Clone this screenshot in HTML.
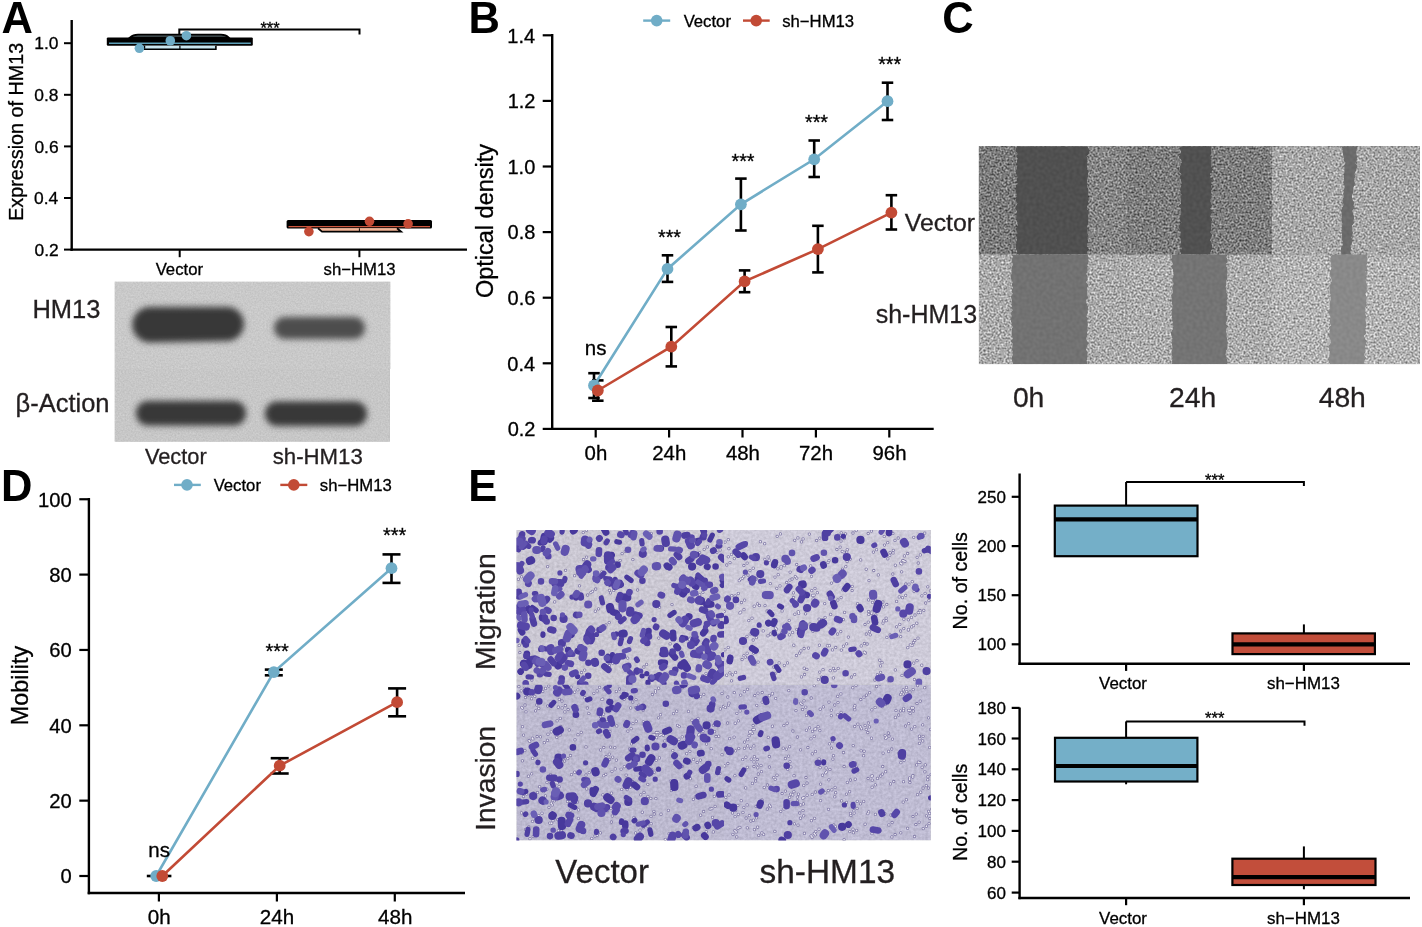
<!DOCTYPE html>
<html><head><meta charset="utf-8"><title>Figure</title>
<style>
html,body{margin:0;padding:0;background:#fff;width:1422px;height:927px;overflow:hidden;}
svg{display:block;will-change:transform;}
text{font-family:"Liberation Sans",sans-serif;}
</style></head>
<body>
<svg width="1422" height="927" viewBox="0 0 1422 927">
<defs>
<filter id="cellnoise" filterUnits="userSpaceOnUse" x="970" y="140" width="460" height="230" color-interpolation-filters="sRGB">
<feTurbulence type="fractalNoise" baseFrequency="0.5" numOctaves="3" seed="7" result="t0"/><feGaussianBlur in="t0" stdDeviation="0.3" result="t"/>
<feColorMatrix in="t" type="matrix" values="1 0 0 0 0  1 0 0 0 0  1 0 0 0 0  0 0 0 0 1" result="g"/>
<feComposite in="g" in2="SourceGraphic" operator="arithmetic" k1="0" k2="0.85" k3="1" k4="-0.425" result="c"/>
<feComposite in="c" in2="SourceGraphic" operator="in"/>
</filter>
<filter id="gapnoise" filterUnits="userSpaceOnUse" x="970" y="140" width="460" height="230" color-interpolation-filters="sRGB">
<feTurbulence type="fractalNoise" baseFrequency="0.3" numOctaves="1" seed="3" result="t"/>
<feColorMatrix in="t" type="matrix" values="1 0 0 0 0  1 0 0 0 0  1 0 0 0 0  0 0 0 0 1" result="g"/>
<feComposite in="g" in2="SourceGraphic" operator="arithmetic" k1="0" k2="0.08" k3="1" k4="-0.04" result="c"/>
<feComposite in="c" in2="SourceGraphic" operator="in"/>
</filter>
<filter id="bgnoise" filterUnits="userSpaceOnUse" x="510" y="525" width="430" height="320" color-interpolation-filters="sRGB">
<feTurbulence type="fractalNoise" baseFrequency="0.35" numOctaves="2" seed="11" result="t"/>
<feColorMatrix in="t" type="matrix" values="1 0 0 0 0  1 0 0 0 0  1 0 0 0 0  0 0 0 0 1" result="g"/>
<feComposite in="g" in2="SourceGraphic" operator="arithmetic" k1="0" k2="0.16" k3="1" k4="-0.08" result="c"/>
<feComposite in="c" in2="SourceGraphic" operator="in"/>
</filter>
<filter id="cellsoft" x="-2%" y="-2%" width="104%" height="104%"><feGaussianBlur stdDeviation="0.6"/></filter>
<filter id="bandblur" filterUnits="userSpaceOnUse" x="112" y="279" width="282" height="166" color-interpolation-filters="sRGB">
<feTurbulence type="fractalNoise" baseFrequency="0.6" numOctaves="2" seed="21" result="t0"/><feGaussianBlur in="t0" stdDeviation="0.5" result="t"/>
<feColorMatrix in="t" type="matrix" values="1 0 0 0 0  1 0 0 0 0  1 0 0 0 0  0 0 0 0 1" result="g"/>
<feComposite in="g" in2="SourceGraphic" operator="arithmetic" k1="0" k2="0.12" k3="1" k4="-0.06" result="c"/>
<feComposite in="c" in2="SourceGraphic" operator="in"/>
</filter>
<filter id="bandblur2" x="-20%" y="-40%" width="140%" height="180%"><feGaussianBlur stdDeviation="3.2"/></filter>
</defs>
<rect x="0" y="0" width="1422" height="927" fill="#fff"/>
<text x="1.42" y="33.00" font-size="43.5" font-weight="bold" fill="#000">A</text>
<text x="468.59" y="33.00" font-size="43.5" font-weight="bold" fill="#000">B</text>
<text x="942.22" y="33.20" font-size="43.5" font-weight="bold" fill="#000">C</text>
<text x="0.89" y="500.80" font-size="43.5" font-weight="bold" fill="#000">D</text>
<text x="468.29" y="500.90" font-size="43.5" font-weight="bold" fill="#000">E</text>
<line x1="71.70" y1="20.00" x2="71.70" y2="250.80" stroke="#000" stroke-width="2.4" stroke-linecap="butt"/>
<line x1="70.50" y1="249.60" x2="467.00" y2="249.60" stroke="#000" stroke-width="2.4" stroke-linecap="butt"/>
<line x1="64.00" y1="249.60" x2="71.70" y2="249.60" stroke="#000" stroke-width="2.0" stroke-linecap="butt"/>
<text x="34.49" y="255.80" font-size="17.4" fill="#000" stroke="#000" stroke-width="0.3" text-anchor="start">0.2</text>
<line x1="64.00" y1="198.00" x2="71.70" y2="198.00" stroke="#000" stroke-width="2.0" stroke-linecap="butt"/>
<text x="34.12" y="204.20" font-size="17.4" fill="#000" stroke="#000" stroke-width="0.3" text-anchor="start">0.4</text>
<line x1="64.00" y1="146.40" x2="71.70" y2="146.40" stroke="#000" stroke-width="2.0" stroke-linecap="butt"/>
<text x="34.38" y="152.60" font-size="17.4" fill="#000" stroke="#000" stroke-width="0.3" text-anchor="start">0.6</text>
<line x1="64.00" y1="94.80" x2="71.70" y2="94.80" stroke="#000" stroke-width="2.0" stroke-linecap="butt"/>
<text x="34.37" y="101.00" font-size="17.4" fill="#000" stroke="#000" stroke-width="0.3" text-anchor="start">0.8</text>
<line x1="64.00" y1="43.20" x2="71.70" y2="43.20" stroke="#000" stroke-width="2.0" stroke-linecap="butt"/>
<text x="34.29" y="49.40" font-size="17.4" fill="#000" stroke="#000" stroke-width="0.3" text-anchor="start">1.0</text>
<line x1="179.70" y1="249.60" x2="179.70" y2="257.20" stroke="#000" stroke-width="2.0" stroke-linecap="butt"/>
<text x="155.67" y="275.20" font-size="16.7" fill="#000" stroke="#000" stroke-width="0.3" text-anchor="start">Vector</text>
<line x1="359.40" y1="249.60" x2="359.40" y2="257.20" stroke="#000" stroke-width="2.0" stroke-linecap="butt"/>
<text x="323.57" y="275.20" font-size="16.7" fill="#000" stroke="#000" stroke-width="0.3" text-anchor="start">sh−HM13</text>
<text transform="translate(23.00 220.82) rotate(-90)" font-size="19.8" fill="#000" stroke="#000" stroke-width="0.3">Expression of HM13</text>
<path d="M179.3 37 L179.3 29.6 L359.5 29.6 L359.5 34.5" stroke="#000" stroke-width="2.0" fill="none" />
<text x="260.42" y="33.60" font-size="16.4" fill="#000" stroke="#000" stroke-width="0.3" text-anchor="start">***</text>
<path d="M129.8 37.5 Q133 34.6 138 34.6 L221 34.6 Q226 34.6 228.8 37.5 Z" stroke="#000" stroke-width="1.6" fill="#4d5b5f" />
<rect x="106.80" y="37.40" width="146.00" height="8.40" fill="#000" rx="1.2"/>
<line x1="109.00" y1="43.20" x2="250.80" y2="43.20" stroke="#5d9fb8" stroke-width="1.4" stroke-linecap="butt"/>
<path d="M144.4 45.8 L144.4 49.2 L215.9 49.2 L215.9 45.8" stroke="#000" stroke-width="1.6" fill="#bfe1ec" />
<line x1="146.00" y1="46.80" x2="214.30" y2="46.80" stroke="#cfe9f2" stroke-width="1.3" stroke-linecap="butt"/>
<line x1="179.90" y1="45.80" x2="179.90" y2="49.20" stroke="#000" stroke-width="1.2" stroke-linecap="butt"/>
<circle cx="139.40" cy="48.30" r="4.8" fill="#70adc7"/>
<circle cx="170.30" cy="40.75" r="4.8" fill="#70adc7"/>
<circle cx="186.40" cy="35.70" r="4.8" fill="#70adc7"/>
<rect x="286.60" y="220.00" width="145.40" height="8.50" fill="#000" rx="1.5"/>
<line x1="288.50" y1="226.60" x2="430.00" y2="226.60" stroke="#d0583f" stroke-width="1.3" stroke-linecap="butt"/>
<path d="M318 228.3 L322 231.6 L401 231.6 L397 228.3" stroke="#000" stroke-width="1.8" fill="#f3b596" />
<line x1="359.40" y1="228.30" x2="359.40" y2="231.60" stroke="#000" stroke-width="1.0" stroke-linecap="butt"/>
<circle cx="308.90" cy="231.60" r="4.8" fill="#c24a35"/>
<circle cx="369.50" cy="221.30" r="4.8" fill="#c24a35"/>
<circle cx="408.10" cy="223.80" r="4.8" fill="#c24a35"/>
<g filter="url(#bandblur)">
<rect x="114.50" y="281.50" width="276.00" height="87.50" fill="#c9c9c9" />
<rect x="114.50" y="369.00" width="275.40" height="72.80" fill="#c7c7c7" />
</g>
<g filter="url(#bandblur2)">
<path d="M150 307 L227 307 A17 17 0 0 1 227 341 L150 342.5 A17.75 17.75 0 0 1 150 307 Z" fill="#393939"/>
<rect x="274" y="317" width="91" height="22" rx="11" fill="#4d4d4d"/>
<rect x="136" y="401" width="110" height="24.5" rx="12" fill="#383838"/>
<rect x="265" y="401.5" width="102" height="24.5" rx="12" fill="#373737"/>
</g>
<text x="32.41" y="318.10" font-size="25.5" fill="#231f20" stroke="#231f20" stroke-width="0.3" text-anchor="start">HM13</text>
<text x="15.53" y="412.40" font-size="25.5" fill="#231f20" stroke="#231f20" stroke-width="0.3" text-anchor="start">β-Action</text>
<text x="144.90" y="463.80" font-size="21.8" fill="#231f20" stroke="#231f20" stroke-width="0.3" text-anchor="start">Vector</text>
<text x="272.78" y="463.80" font-size="22.2" fill="#231f20" stroke="#231f20" stroke-width="0.3" text-anchor="start">sh-HM13</text>
<line x1="552.20" y1="34.10" x2="552.20" y2="430.10" stroke="#000" stroke-width="2.4" stroke-linecap="butt"/>
<line x1="551.00" y1="428.90" x2="933.70" y2="428.90" stroke="#000" stroke-width="2.4" stroke-linecap="butt"/>
<line x1="542.70" y1="428.90" x2="552.20" y2="428.90" stroke="#000" stroke-width="2.2" stroke-linecap="butt"/>
<text x="507.70" y="436.20" font-size="20.0" fill="#000" stroke="#000" stroke-width="0.3" text-anchor="start">0.2</text>
<line x1="542.70" y1="363.30" x2="552.20" y2="363.30" stroke="#000" stroke-width="2.2" stroke-linecap="butt"/>
<text x="507.28" y="370.60" font-size="20.0" fill="#000" stroke="#000" stroke-width="0.3" text-anchor="start">0.4</text>
<line x1="542.70" y1="297.70" x2="552.20" y2="297.70" stroke="#000" stroke-width="2.2" stroke-linecap="butt"/>
<text x="507.58" y="305.00" font-size="20.0" fill="#000" stroke="#000" stroke-width="0.3" text-anchor="start">0.6</text>
<line x1="542.70" y1="232.10" x2="552.20" y2="232.10" stroke="#000" stroke-width="2.2" stroke-linecap="butt"/>
<text x="507.57" y="239.40" font-size="20.0" fill="#000" stroke="#000" stroke-width="0.3" text-anchor="start">0.8</text>
<line x1="542.70" y1="166.50" x2="552.20" y2="166.50" stroke="#000" stroke-width="2.2" stroke-linecap="butt"/>
<text x="507.48" y="173.80" font-size="20.0" fill="#000" stroke="#000" stroke-width="0.3" text-anchor="start">1.0</text>
<line x1="542.70" y1="100.90" x2="552.20" y2="100.90" stroke="#000" stroke-width="2.2" stroke-linecap="butt"/>
<text x="507.70" y="108.20" font-size="20.0" fill="#000" stroke="#000" stroke-width="0.3" text-anchor="start">1.2</text>
<line x1="542.70" y1="35.30" x2="552.20" y2="35.30" stroke="#000" stroke-width="2.2" stroke-linecap="butt"/>
<text x="507.28" y="42.60" font-size="20.0" fill="#000" stroke="#000" stroke-width="0.3" text-anchor="start">1.4</text>
<line x1="595.70" y1="428.90" x2="595.70" y2="437.50" stroke="#000" stroke-width="2.2" stroke-linecap="butt"/>
<text x="584.62" y="460.20" font-size="20.4" fill="#000" stroke="#000" stroke-width="0.3" text-anchor="start">0h</text>
<line x1="669.10" y1="428.90" x2="669.10" y2="437.50" stroke="#000" stroke-width="2.2" stroke-linecap="butt"/>
<text x="652.23" y="460.20" font-size="20.4" fill="#000" stroke="#000" stroke-width="0.3" text-anchor="start">24h</text>
<line x1="742.50" y1="428.90" x2="742.50" y2="437.50" stroke="#000" stroke-width="2.2" stroke-linecap="butt"/>
<text x="725.91" y="460.20" font-size="20.4" fill="#000" stroke="#000" stroke-width="0.3" text-anchor="start">48h</text>
<line x1="815.90" y1="428.90" x2="815.90" y2="437.50" stroke="#000" stroke-width="2.2" stroke-linecap="butt"/>
<text x="799.02" y="460.20" font-size="20.4" fill="#000" stroke="#000" stroke-width="0.3" text-anchor="start">72h</text>
<line x1="889.30" y1="428.90" x2="889.30" y2="437.50" stroke="#000" stroke-width="2.2" stroke-linecap="butt"/>
<text x="872.47" y="460.20" font-size="20.4" fill="#000" stroke="#000" stroke-width="0.3" text-anchor="start">96h</text>
<text transform="translate(493.00 298.10) rotate(-90)" font-size="23.5" fill="#000" stroke="#000" stroke-width="0.3">Optical density</text>
<line x1="594.00" y1="373.20" x2="594.00" y2="398.00" stroke="#000" stroke-width="2.6" stroke-linecap="butt"/>
<line x1="588.25" y1="373.20" x2="599.75" y2="373.20" stroke="#000" stroke-width="2.6" stroke-linecap="butt"/>
<line x1="588.25" y1="398.00" x2="599.75" y2="398.00" stroke="#000" stroke-width="2.6" stroke-linecap="butt"/>
<line x1="667.50" y1="255.30" x2="667.50" y2="281.90" stroke="#000" stroke-width="2.6" stroke-linecap="butt"/>
<line x1="661.75" y1="255.30" x2="673.25" y2="255.30" stroke="#000" stroke-width="2.6" stroke-linecap="butt"/>
<line x1="661.75" y1="281.90" x2="673.25" y2="281.90" stroke="#000" stroke-width="2.6" stroke-linecap="butt"/>
<line x1="740.90" y1="178.60" x2="740.90" y2="230.50" stroke="#000" stroke-width="2.6" stroke-linecap="butt"/>
<line x1="735.15" y1="178.60" x2="746.65" y2="178.60" stroke="#000" stroke-width="2.6" stroke-linecap="butt"/>
<line x1="735.15" y1="230.50" x2="746.65" y2="230.50" stroke="#000" stroke-width="2.6" stroke-linecap="butt"/>
<line x1="814.20" y1="140.50" x2="814.20" y2="177.00" stroke="#000" stroke-width="2.6" stroke-linecap="butt"/>
<line x1="808.45" y1="140.50" x2="819.95" y2="140.50" stroke="#000" stroke-width="2.6" stroke-linecap="butt"/>
<line x1="808.45" y1="177.00" x2="819.95" y2="177.00" stroke="#000" stroke-width="2.6" stroke-linecap="butt"/>
<line x1="887.50" y1="82.70" x2="887.50" y2="120.00" stroke="#000" stroke-width="2.6" stroke-linecap="butt"/>
<line x1="881.75" y1="82.70" x2="893.25" y2="82.70" stroke="#000" stroke-width="2.6" stroke-linecap="butt"/>
<line x1="881.75" y1="120.00" x2="893.25" y2="120.00" stroke="#000" stroke-width="2.6" stroke-linecap="butt"/>
<line x1="597.80" y1="380.40" x2="597.80" y2="400.70" stroke="#000" stroke-width="2.6" stroke-linecap="butt"/>
<line x1="592.05" y1="380.40" x2="603.55" y2="380.40" stroke="#000" stroke-width="2.6" stroke-linecap="butt"/>
<line x1="592.05" y1="400.70" x2="603.55" y2="400.70" stroke="#000" stroke-width="2.6" stroke-linecap="butt"/>
<line x1="671.30" y1="327.00" x2="671.30" y2="366.40" stroke="#000" stroke-width="2.6" stroke-linecap="butt"/>
<line x1="665.55" y1="327.00" x2="677.05" y2="327.00" stroke="#000" stroke-width="2.6" stroke-linecap="butt"/>
<line x1="665.55" y1="366.40" x2="677.05" y2="366.40" stroke="#000" stroke-width="2.6" stroke-linecap="butt"/>
<line x1="744.60" y1="270.40" x2="744.60" y2="292.20" stroke="#000" stroke-width="2.6" stroke-linecap="butt"/>
<line x1="738.85" y1="270.40" x2="750.35" y2="270.40" stroke="#000" stroke-width="2.6" stroke-linecap="butt"/>
<line x1="738.85" y1="292.20" x2="750.35" y2="292.20" stroke="#000" stroke-width="2.6" stroke-linecap="butt"/>
<line x1="817.90" y1="225.80" x2="817.90" y2="272.40" stroke="#000" stroke-width="2.6" stroke-linecap="butt"/>
<line x1="812.15" y1="225.80" x2="823.65" y2="225.80" stroke="#000" stroke-width="2.6" stroke-linecap="butt"/>
<line x1="812.15" y1="272.40" x2="823.65" y2="272.40" stroke="#000" stroke-width="2.6" stroke-linecap="butt"/>
<line x1="891.40" y1="195.20" x2="891.40" y2="229.50" stroke="#000" stroke-width="2.6" stroke-linecap="butt"/>
<line x1="885.65" y1="195.20" x2="897.15" y2="195.20" stroke="#000" stroke-width="2.6" stroke-linecap="butt"/>
<line x1="885.65" y1="229.50" x2="897.15" y2="229.50" stroke="#000" stroke-width="2.6" stroke-linecap="butt"/>
<polyline points="594,385.5 667.5,268.9 740.9,204.3 814.2,159.3 887.5,101.2" fill="none" stroke="#70adc7" stroke-width="2.6"/>
<polyline points="597.8,390.5 671.3,346.7 744.6,281.4 817.9,249.1 891.4,212.6" fill="none" stroke="#c24a35" stroke-width="2.6"/>
<circle cx="594.00" cy="385.50" r="5.9" fill="#70adc7"/>
<circle cx="667.50" cy="268.90" r="5.9" fill="#70adc7"/>
<circle cx="740.90" cy="204.30" r="5.9" fill="#70adc7"/>
<circle cx="814.20" cy="159.30" r="5.9" fill="#70adc7"/>
<circle cx="887.50" cy="101.20" r="5.9" fill="#70adc7"/>
<circle cx="597.80" cy="390.50" r="5.9" fill="#c24a35"/>
<circle cx="671.30" cy="346.70" r="5.9" fill="#c24a35"/>
<circle cx="744.60" cy="281.40" r="5.9" fill="#c24a35"/>
<circle cx="817.90" cy="249.10" r="5.9" fill="#c24a35"/>
<circle cx="891.40" cy="212.60" r="5.9" fill="#c24a35"/>
<text x="657.94" y="244.22" font-size="19.8" fill="#000" stroke="#000" stroke-width="0.3" text-anchor="start">***</text>
<text x="731.44" y="167.52" font-size="19.8" fill="#000" stroke="#000" stroke-width="0.3" text-anchor="start">***</text>
<text x="804.94" y="129.42" font-size="19.8" fill="#000" stroke="#000" stroke-width="0.3" text-anchor="start">***</text>
<text x="878.14" y="71.02" font-size="19.8" fill="#000" stroke="#000" stroke-width="0.3" text-anchor="start">***</text>
<text x="584.86" y="354.60" font-size="20.5" fill="#000" stroke="#000" stroke-width="0.3" text-anchor="start">ns</text>
<line x1="643.20" y1="20.60" x2="670.20" y2="20.60" stroke="#70adc7" stroke-width="2.4" stroke-linecap="butt"/>
<circle cx="656.70" cy="20.60" r="5.8" fill="#70adc7"/>
<text x="683.63" y="26.50" font-size="16.7" fill="#000" stroke="#000" stroke-width="0.3" text-anchor="start">Vector</text>
<line x1="743.00" y1="20.60" x2="769.70" y2="20.60" stroke="#c24a35" stroke-width="2.4" stroke-linecap="butt"/>
<circle cx="756.20" cy="20.60" r="5.8" fill="#c24a35"/>
<text x="782.24" y="26.50" font-size="16.7" fill="#000" stroke="#000" stroke-width="0.3" text-anchor="start">sh−HM13</text>
<g filter="url(#cellnoise)">
<rect x="978.90" y="146.20" width="146.90" height="108.30" fill="#858585" />
<rect x="1125.80" y="146.20" width="146.20" height="108.30" fill="#7d7d7d" />
<rect x="1272.00" y="146.20" width="147.80" height="108.30" fill="#a7a7a7" />
<rect x="978.90" y="146.20" width="41.10" height="108.30" fill="#7b7b7b" />
<rect x="978.90" y="254.50" width="146.90" height="109.60" fill="#aaaaaa" />
<rect x="1125.80" y="254.50" width="146.20" height="109.60" fill="#acacac" />
<rect x="1272.00" y="254.50" width="147.80" height="109.60" fill="#b3b3b3" />
</g>
<g filter="url(#gapnoise)">
<path d="M1017.0 146.2 L1016.2 148.5 L1015.6 151.2 L1017.6 153.8 L1016.4 156.2 L1017.5 158.7 L1016.8 161.8 L1017.2 165.2 L1016.9 168.6 L1015.5 171.5 L1016.1 174.1 L1017.7 176.5 L1016.6 180.0 L1017.7 183.4 L1016.0 186.4 L1015.2 189.8 L1016.2 191.9 L1016.8 195.0 L1015.7 198.4 L1016.1 200.4 L1017.5 203.4 L1015.9 205.9 L1015.1 208.8 L1017.0 210.9 L1016.2 213.9 L1016.5 216.3 L1016.4 219.0 L1017.2 222.2 L1017.9 225.5 L1015.8 228.3 L1016.6 230.4 L1017.4 233.3 L1016.3 236.2 L1017.1 238.3 L1016.5 241.1 L1016.2 243.5 L1015.7 246.7 L1016.2 249.4 L1017.5 252.2 L1015.8 254.5 L1016.7 254.5 L1087.5 254.5 L1088.2 254.5 L1086.8 252.2 L1089.2 249.4 L1087.6 246.7 L1087.4 243.5 L1088.3 241.1 L1087.3 238.3 L1088.7 236.2 L1087.6 233.3 L1087.6 230.4 L1087.8 228.3 L1087.3 225.5 L1088.5 222.2 L1088.6 219.0 L1088.5 216.3 L1088.6 213.9 L1088.6 210.9 L1086.8 208.8 L1087.3 205.9 L1089.0 203.4 L1087.5 200.4 L1088.6 198.4 L1087.8 195.0 L1088.5 191.9 L1088.7 189.8 L1086.9 186.4 L1087.6 183.4 L1087.0 180.0 L1088.0 176.5 L1088.1 174.1 L1088.7 171.5 L1086.8 168.6 L1087.4 165.2 L1087.5 161.8 L1087.5 158.7 L1086.7 156.2 L1088.8 153.8 L1089.5 151.2 L1088.6 148.5 L1087.1 146.2 Z" fill="#505050"/>
<path d="M1181.2 146.2 L1180.7 148.5 L1180.9 151.9 L1180.3 153.9 L1178.8 157.1 L1181.4 160.1 L1181.5 162.8 L1179.9 166.2 L1180.0 168.5 L1179.1 171.6 L1181.4 174.5 L1179.4 177.2 L1181.0 180.2 L1181.6 183.4 L1181.0 186.2 L1180.0 189.0 L1180.3 191.4 L1181.4 194.4 L1180.7 197.5 L1180.9 200.6 L1181.1 203.6 L1178.8 205.7 L1180.9 208.7 L1181.2 212.2 L1180.8 214.2 L1180.0 216.9 L1179.7 219.5 L1181.4 222.5 L1178.9 225.7 L1179.2 229.0 L1180.8 232.5 L1180.2 234.7 L1180.0 237.6 L1181.1 239.9 L1180.7 242.6 L1180.3 244.9 L1181.5 247.9 L1181.1 249.9 L1180.9 253.3 L1179.8 254.5 L1210.6 254.5 L1210.2 253.3 L1211.5 249.9 L1212.4 247.9 L1211.9 244.9 L1211.6 242.6 L1209.9 239.9 L1211.1 237.6 L1212.2 234.7 L1210.5 232.5 L1211.4 229.0 L1211.0 225.7 L1211.4 222.5 L1212.2 219.5 L1210.2 216.9 L1211.3 214.2 L1212.2 212.2 L1210.2 208.7 L1212.2 205.7 L1211.2 203.6 L1210.1 200.6 L1211.8 197.5 L1211.4 194.4 L1211.1 191.4 L1212.1 189.0 L1211.2 186.2 L1211.2 183.4 L1212.4 180.2 L1210.1 177.2 L1209.9 174.5 L1211.8 171.6 L1212.3 168.5 L1211.2 166.2 L1211.5 162.8 L1210.9 160.1 L1210.9 157.1 L1210.5 153.9 L1211.2 151.9 L1210.8 148.5 L1211.3 146.2 Z" fill="#515151"/>
<path d="M1340.8 146.2 L1342.6 148.3 L1342.2 151.7 L1343.1 154.6 L1343.4 157.6 L1343.9 160.5 L1345.5 162.9 L1343.9 165.5 L1344.5 168.1 L1344.3 170.9 L1344.1 173.8 L1343.9 177.1 L1344.0 179.5 L1343.1 182.5 L1344.4 185.4 L1344.5 187.5 L1343.7 190.9 L1343.1 194.1 L1343.7 196.8 L1342.2 200.2 L1343.0 202.5 L1343.4 205.2 L1341.7 207.9 L1341.1 210.9 L1341.5 213.8 L1341.8 216.9 L1341.2 220.2 L1342.2 223.4 L1342.0 225.7 L1341.2 228.1 L1342.2 230.6 L1341.2 232.7 L1342.1 235.1 L1341.6 237.6 L1342.1 240.1 L1342.9 242.6 L1342.3 245.9 L1340.5 248.6 L1341.0 251.5 L1341.2 253.9 L1341.3 254.5 L1349.8 254.5 L1350.9 253.9 L1350.4 251.5 L1351.1 248.6 L1350.6 245.9 L1352.3 242.6 L1352.6 240.1 L1351.4 237.6 L1352.6 235.1 L1353.0 232.7 L1352.3 230.6 L1352.0 228.1 L1352.0 225.7 L1353.8 223.4 L1353.7 220.2 L1354.2 216.9 L1353.2 213.8 L1352.3 210.9 L1354.3 207.9 L1353.6 205.2 L1354.5 202.5 L1352.8 200.2 L1351.8 196.8 L1352.7 194.1 L1353.4 190.9 L1353.1 187.5 L1354.9 185.4 L1354.2 182.5 L1354.0 179.5 L1355.5 177.1 L1354.6 173.8 L1355.8 170.9 L1356.8 168.1 L1357.2 165.5 L1355.3 162.9 L1356.7 160.5 L1357.0 157.6 L1356.7 154.6 L1356.3 151.7 L1357.1 148.3 L1357.4 146.2 Z" fill="#6b6b6b"/>
<path d="M1011.6 254.5 L1012.7 256.7 L1011.8 260.1 L1012.3 262.9 L1012.7 265.2 L1011.2 268.1 L1011.8 270.5 L1011.4 273.9 L1010.4 276.0 L1011.1 279.2 L1012.6 282.3 L1011.6 285.1 L1012.7 287.7 L1011.5 291.2 L1012.8 293.8 L1011.2 295.9 L1011.1 297.9 L1012.2 300.0 L1011.2 302.2 L1012.0 305.4 L1010.9 308.1 L1012.8 310.3 L1010.7 313.2 L1011.6 315.7 L1010.9 318.4 L1010.9 320.9 L1011.7 323.9 L1012.6 327.1 L1011.6 329.6 L1012.1 333.0 L1011.6 335.5 L1013.1 338.4 L1010.4 341.6 L1012.7 343.8 L1012.3 346.9 L1012.1 349.0 L1012.7 352.2 L1012.3 355.4 L1011.8 358.5 L1012.1 361.3 L1012.9 363.9 L1013.1 364.1 L1086.5 364.1 L1087.5 363.9 L1086.7 361.3 L1087.1 358.5 L1087.6 355.4 L1087.5 352.2 L1086.1 349.0 L1086.6 346.9 L1088.3 343.8 L1087.3 341.6 L1086.0 338.4 L1087.4 335.5 L1087.0 333.0 L1087.7 329.6 L1087.7 327.1 L1087.8 323.9 L1087.6 320.9 L1087.9 318.4 L1086.0 315.7 L1087.7 313.2 L1087.8 310.3 L1088.4 308.1 L1087.5 305.4 L1086.0 302.2 L1086.1 300.0 L1088.5 297.9 L1087.6 295.9 L1087.2 293.8 L1087.2 291.2 L1087.0 287.7 L1088.4 285.1 L1085.9 282.3 L1087.8 279.2 L1087.5 276.0 L1086.2 273.9 L1087.8 270.5 L1087.7 268.1 L1087.1 265.2 L1088.5 262.9 L1087.8 260.1 L1088.5 256.7 L1087.4 254.5 Z" fill="#727272"/>
<path d="M1171.8 254.5 L1172.2 257.2 L1170.9 259.3 L1171.8 261.7 L1173.2 263.8 L1171.0 266.2 L1172.6 269.3 L1173.3 272.3 L1173.4 275.4 L1172.8 278.3 L1172.8 280.8 L1173.5 283.9 L1172.1 287.3 L1172.3 289.6 L1173.0 292.6 L1171.1 295.2 L1171.5 298.5 L1171.3 300.8 L1172.0 303.2 L1172.4 305.5 L1172.2 308.6 L1171.7 312.0 L1171.3 314.7 L1172.3 317.6 L1172.0 320.5 L1172.9 323.8 L1173.2 326.3 L1172.7 329.3 L1170.8 332.8 L1171.5 335.9 L1172.4 339.1 L1172.0 341.4 L1171.9 343.5 L1172.3 346.8 L1172.3 348.9 L1171.6 351.0 L1171.5 354.2 L1172.6 357.3 L1172.1 360.4 L1172.2 363.2 L1171.8 364.1 L1227.5 364.1 L1227.2 363.2 L1227.6 360.4 L1226.1 357.3 L1225.7 354.2 L1226.0 351.0 L1227.3 348.9 L1227.3 346.8 L1227.9 343.5 L1227.4 341.4 L1227.5 339.1 L1226.1 335.9 L1226.5 332.8 L1226.1 329.3 L1228.3 326.3 L1225.7 323.8 L1227.1 320.5 L1227.6 317.6 L1225.9 314.7 L1226.2 312.0 L1227.3 308.6 L1226.5 305.5 L1227.5 303.2 L1226.6 300.8 L1227.5 298.5 L1227.6 295.2 L1226.6 292.6 L1226.6 289.6 L1225.7 287.3 L1226.2 283.9 L1226.0 280.8 L1227.4 278.3 L1227.5 275.4 L1227.4 272.3 L1227.6 269.3 L1226.5 266.2 L1226.1 263.8 L1227.7 261.7 L1227.6 259.3 L1226.6 257.2 L1227.3 254.5 Z" fill="#747474"/>
<path d="M1332.0 254.5 L1330.7 256.5 L1330.2 259.8 L1330.4 262.8 L1331.3 266.1 L1331.5 268.5 L1329.5 271.5 L1330.1 273.7 L1330.3 276.8 L1331.8 280.1 L1331.6 282.6 L1329.2 285.7 L1329.9 288.4 L1329.8 291.4 L1330.2 293.9 L1331.1 296.9 L1330.7 300.2 L1329.7 303.1 L1329.9 305.5 L1329.6 307.8 L1329.1 310.9 L1329.0 313.9 L1330.4 317.1 L1329.9 319.4 L1329.5 322.1 L1331.3 325.5 L1328.6 327.5 L1329.8 329.8 L1329.3 333.3 L1328.6 335.9 L1329.8 338.2 L1331.1 341.5 L1330.2 343.7 L1328.7 346.1 L1329.1 349.5 L1330.2 351.8 L1329.4 355.0 L1329.0 357.8 L1329.0 360.1 L1329.0 362.6 L1330.4 364.1 L1365.1 364.1 L1363.8 362.6 L1364.6 360.1 L1366.0 357.8 L1364.2 355.0 L1365.2 351.8 L1365.4 349.5 L1365.4 346.1 L1366.0 343.7 L1366.4 341.5 L1364.3 338.2 L1364.1 335.9 L1366.2 333.3 L1365.5 329.8 L1365.6 327.5 L1366.4 325.5 L1365.8 322.1 L1365.5 319.4 L1366.1 317.1 L1365.4 313.9 L1365.5 310.9 L1365.0 307.8 L1367.0 305.5 L1365.9 303.1 L1366.3 300.2 L1366.9 296.9 L1365.1 293.9 L1366.8 291.4 L1366.8 288.4 L1366.7 285.7 L1366.5 282.6 L1365.6 280.1 L1367.0 276.8 L1366.2 273.7 L1365.5 271.5 L1367.4 268.5 L1366.5 266.1 L1367.1 262.8 L1367.3 259.8 L1366.9 256.5 L1366.0 254.5 Z" fill="#898989"/>
</g>
<text x="904.74" y="230.50" font-size="24.8" fill="#231f20" stroke="#231f20" stroke-width="0.3" text-anchor="start">Vector</text>
<text x="875.68" y="323.20" font-size="25.0" fill="#231f20" stroke="#231f20" stroke-width="0.3" text-anchor="start">sh-HM13</text>
<text x="1012.89" y="406.80" font-size="28.3" fill="#231f20" stroke="#231f20" stroke-width="0.3" text-anchor="start">0h</text>
<text x="1169.08" y="406.80" font-size="28.3" fill="#231f20" stroke="#231f20" stroke-width="0.3" text-anchor="start">24h</text>
<text x="1318.65" y="406.80" font-size="28.3" fill="#231f20" stroke="#231f20" stroke-width="0.3" text-anchor="start">48h</text>
<line x1="88.90" y1="498.10" x2="88.90" y2="894.20" stroke="#000" stroke-width="2.4" stroke-linecap="butt"/>
<line x1="87.70" y1="893.00" x2="465.00" y2="893.00" stroke="#000" stroke-width="2.4" stroke-linecap="butt"/>
<line x1="79.30" y1="876.00" x2="88.90" y2="876.00" stroke="#000" stroke-width="2.2" stroke-linecap="butt"/>
<text x="60.55" y="883.30" font-size="20.2" fill="#000" stroke="#000" stroke-width="0.3" text-anchor="start">0</text>
<line x1="79.30" y1="800.65" x2="88.90" y2="800.65" stroke="#000" stroke-width="2.2" stroke-linecap="butt"/>
<text x="49.32" y="807.95" font-size="20.2" fill="#000" stroke="#000" stroke-width="0.3" text-anchor="start">20</text>
<line x1="79.30" y1="725.30" x2="88.90" y2="725.30" stroke="#000" stroke-width="2.2" stroke-linecap="butt"/>
<text x="49.32" y="732.60" font-size="20.2" fill="#000" stroke="#000" stroke-width="0.3" text-anchor="start">40</text>
<line x1="79.30" y1="649.95" x2="88.90" y2="649.95" stroke="#000" stroke-width="2.2" stroke-linecap="butt"/>
<text x="49.32" y="657.25" font-size="20.2" fill="#000" stroke="#000" stroke-width="0.3" text-anchor="start">60</text>
<line x1="79.30" y1="574.60" x2="88.90" y2="574.60" stroke="#000" stroke-width="2.2" stroke-linecap="butt"/>
<text x="49.32" y="581.90" font-size="20.2" fill="#000" stroke="#000" stroke-width="0.3" text-anchor="start">80</text>
<line x1="79.30" y1="499.25" x2="88.90" y2="499.25" stroke="#000" stroke-width="2.2" stroke-linecap="butt"/>
<text x="38.09" y="506.55" font-size="20.2" fill="#000" stroke="#000" stroke-width="0.3" text-anchor="start">100</text>
<line x1="158.90" y1="893.00" x2="158.90" y2="901.50" stroke="#000" stroke-width="2.2" stroke-linecap="butt"/>
<text x="147.71" y="924.20" font-size="20.6" fill="#000" stroke="#000" stroke-width="0.3" text-anchor="start">0h</text>
<line x1="276.90" y1="893.00" x2="276.90" y2="901.50" stroke="#000" stroke-width="2.2" stroke-linecap="butt"/>
<text x="259.87" y="924.20" font-size="20.6" fill="#000" stroke="#000" stroke-width="0.3" text-anchor="start">24h</text>
<line x1="394.80" y1="893.00" x2="394.80" y2="901.50" stroke="#000" stroke-width="2.2" stroke-linecap="butt"/>
<text x="378.05" y="924.20" font-size="20.6" fill="#000" stroke="#000" stroke-width="0.3" text-anchor="start">48h</text>
<text transform="translate(27.90 725.20) rotate(-90)" font-size="23.4" fill="#000" stroke="#000" stroke-width="0.3">Mobility</text>
<line x1="146.80" y1="876.00" x2="171.40" y2="876.00" stroke="#000" stroke-width="2.6" stroke-linecap="butt"/>
<line x1="273.80" y1="669.60" x2="273.80" y2="675.30" stroke="#000" stroke-width="2.6" stroke-linecap="butt"/>
<line x1="264.80" y1="669.60" x2="282.80" y2="669.60" stroke="#000" stroke-width="2.6" stroke-linecap="butt"/>
<line x1="264.80" y1="675.30" x2="282.80" y2="675.30" stroke="#000" stroke-width="2.6" stroke-linecap="butt"/>
<line x1="391.50" y1="554.40" x2="391.50" y2="582.90" stroke="#000" stroke-width="2.6" stroke-linecap="butt"/>
<line x1="382.50" y1="554.40" x2="400.50" y2="554.40" stroke="#000" stroke-width="2.6" stroke-linecap="butt"/>
<line x1="382.50" y1="582.90" x2="400.50" y2="582.90" stroke="#000" stroke-width="2.6" stroke-linecap="butt"/>
<line x1="279.70" y1="758.20" x2="279.70" y2="773.50" stroke="#000" stroke-width="2.6" stroke-linecap="butt"/>
<line x1="270.70" y1="758.20" x2="288.70" y2="758.20" stroke="#000" stroke-width="2.6" stroke-linecap="butt"/>
<line x1="270.70" y1="773.50" x2="288.70" y2="773.50" stroke="#000" stroke-width="2.6" stroke-linecap="butt"/>
<line x1="397.10" y1="688.40" x2="397.10" y2="716.30" stroke="#000" stroke-width="2.6" stroke-linecap="butt"/>
<line x1="388.10" y1="688.40" x2="406.10" y2="688.40" stroke="#000" stroke-width="2.6" stroke-linecap="butt"/>
<line x1="388.10" y1="716.30" x2="406.10" y2="716.30" stroke="#000" stroke-width="2.6" stroke-linecap="butt"/>
<polyline points="156.2,876 273.8,672.1 391.5,568.2" fill="none" stroke="#70adc7" stroke-width="2.6"/>
<polyline points="162.3,876 279.7,765.7 397.1,702.2" fill="none" stroke="#c24a35" stroke-width="2.6"/>
<circle cx="156.20" cy="876.00" r="5.9" fill="#70adc7"/>
<circle cx="273.80" cy="672.10" r="5.9" fill="#70adc7"/>
<circle cx="391.50" cy="568.20" r="5.9" fill="#70adc7"/>
<circle cx="162.30" cy="876.00" r="5.9" fill="#c24a35"/>
<circle cx="279.70" cy="765.70" r="5.9" fill="#c24a35"/>
<circle cx="397.10" cy="702.20" r="5.9" fill="#c24a35"/>
<text x="265.42" y="657.76" font-size="20.0" fill="#000" stroke="#000" stroke-width="0.3" text-anchor="start">***</text>
<text x="382.92" y="541.96" font-size="20.0" fill="#000" stroke="#000" stroke-width="0.3" text-anchor="start">***</text>
<text x="148.36" y="856.60" font-size="20.5" fill="#000" stroke="#000" stroke-width="0.3" text-anchor="start">ns</text>
<line x1="174.00" y1="484.90" x2="200.80" y2="484.90" stroke="#70adc7" stroke-width="2.4" stroke-linecap="butt"/>
<circle cx="187.00" cy="484.90" r="5.8" fill="#70adc7"/>
<text x="213.63" y="491.20" font-size="16.7" fill="#000" stroke="#000" stroke-width="0.3" text-anchor="start">Vector</text>
<line x1="280.30" y1="484.90" x2="307.30" y2="484.90" stroke="#c24a35" stroke-width="2.4" stroke-linecap="butt"/>
<circle cx="293.80" cy="484.90" r="5.8" fill="#c24a35"/>
<text x="319.84" y="491.20" font-size="16.7" fill="#000" stroke="#000" stroke-width="0.3" text-anchor="start">sh−HM13</text>
<clipPath id="eclip"><rect x="516.4" y="530.0" width="414.4" height="310.4"/></clipPath>
<g filter="url(#bgnoise)">
<rect x="516.40" y="530.00" width="207.60" height="154.80" fill="#cbc8d3" />
<rect x="724.00" y="530.00" width="206.80" height="154.80" fill="#cecbd9" />
<rect x="516.40" y="684.80" width="207.60" height="155.60" fill="#bdbad0" />
<rect x="724.00" y="684.80" width="206.80" height="155.60" fill="#bfbcd3" />
</g>
<clipPath id="qcTL"><rect x="516.4" y="530.0" width="207.6" height="154.8"/></clipPath>
<clipPath id="qcTR"><rect x="724.0" y="530.0" width="206.8" height="154.8"/></clipPath>
<clipPath id="qcBL"><rect x="516.4" y="684.8" width="207.6" height="155.6"/></clipPath>
<clipPath id="qcBR"><rect x="724.0" y="684.8" width="206.8" height="155.6"/></clipPath>
<g clip-path="url(#qcTL)">
<path d="M587.7 595.0h0M590.9 592.6h0M637.6 590.0h0M579.5 585.8h0M547.6 566.6h0M654.4 548.9h0M657.6 546.5h0M610.5 592.8h0M613.7 590.4h0M658.8 638.1h0M662.0 635.7h0M627.7 658.1h0M518.4 579.2h0M521.6 576.8h0M696.7 638.2h0M519.2 645.4h0M522.4 643.0h0M554.7 601.9h0M569.1 663.4h0M716.9 552.3h0M720.1 549.9h0M592.5 591.4h0M595.7 589.0h0M704.2 549.3h0M707.4 546.9h0M519.9 652.5h0M583.5 559.5h0M586.7 557.1h0M606.0 625.0h0M609.2 622.6h0M670.1 643.8h0M711.4 645.3h0M678.3 589.9h0M681.5 587.5h0M561.2 676.3h0M686.2 538.8h0M574.6 575.7h0M577.8 573.3h0M689.5 639.6h0M517.6 597.6h0M609.4 590.3h0M622.1 553.6h0M625.3 551.2h0M598.7 574.2h0M601.9 571.8h0M690.3 638.2h0M659.5 607.2h0M643.9 667.0h0M616.9 562.8h0M620.1 560.4h0M699.7 594.7h0M702.9 592.3h0M562.3 649.4h0M565.5 647.0h0M696.4 555.0h0M699.6 552.6h0M573.6 596.1h0M672.0 604.6h0M524.7 625.3h0M531.9 680.0h0M616.1 562.5h0M692.7 637.9h0M695.9 635.5h0M581.5 672.5h0M584.7 670.1h0M646.6 664.4h0M648.0 535.8h0M651.2 533.4h0M565.6 570.3h0M583.2 532.6h0M586.4 530.2h0M601.9 596.8h0M582.0 653.9h0M702.8 675.7h0M706.0 673.3h0M609.4 665.5h0M612.6 663.1h0M703.0 656.3h0M706.2 653.9h0M517.1 611.8h0M520.3 609.4h0M555.3 589.3h0M558.5 586.9h0M670.9 637.7h0M677.9 592.0h0M681.1 589.6h0M595.3 611.2h0M598.5 608.8h0M634.4 671.8h0M637.6 669.4h0M632.9 559.6h0" stroke="#7f78a6" stroke-width="3.3" stroke-linecap="round" fill="none"/>
<path d="M587.7 595.0h0M590.9 592.6h0M637.6 590.0h0M579.5 585.8h0M547.6 566.6h0M654.4 548.9h0M657.6 546.5h0M610.5 592.8h0M613.7 590.4h0M658.8 638.1h0M662.0 635.7h0M627.7 658.1h0M518.4 579.2h0M521.6 576.8h0M696.7 638.2h0M519.2 645.4h0M522.4 643.0h0M554.7 601.9h0M569.1 663.4h0M716.9 552.3h0M720.1 549.9h0M592.5 591.4h0M595.7 589.0h0M704.2 549.3h0M707.4 546.9h0M519.9 652.5h0M583.5 559.5h0M586.7 557.1h0M606.0 625.0h0M609.2 622.6h0M670.1 643.8h0M711.4 645.3h0M678.3 589.9h0M681.5 587.5h0M561.2 676.3h0M686.2 538.8h0M574.6 575.7h0M577.8 573.3h0M689.5 639.6h0M517.6 597.6h0M609.4 590.3h0M622.1 553.6h0M625.3 551.2h0M598.7 574.2h0M601.9 571.8h0M690.3 638.2h0M659.5 607.2h0M643.9 667.0h0M616.9 562.8h0M620.1 560.4h0M699.7 594.7h0M702.9 592.3h0M562.3 649.4h0M565.5 647.0h0M696.4 555.0h0M699.6 552.6h0M573.6 596.1h0M672.0 604.6h0M524.7 625.3h0M531.9 680.0h0M616.1 562.5h0M692.7 637.9h0M695.9 635.5h0M581.5 672.5h0M584.7 670.1h0M646.6 664.4h0M648.0 535.8h0M651.2 533.4h0M565.6 570.3h0M583.2 532.6h0M586.4 530.2h0M601.9 596.8h0M582.0 653.9h0M702.8 675.7h0M706.0 673.3h0M609.4 665.5h0M612.6 663.1h0M703.0 656.3h0M706.2 653.9h0M517.1 611.8h0M520.3 609.4h0M555.3 589.3h0M558.5 586.9h0M670.9 637.7h0M677.9 592.0h0M681.1 589.6h0M595.3 611.2h0M598.5 608.8h0M634.4 671.8h0M637.6 669.4h0M632.9 559.6h0" stroke="#ebe9f1" stroke-width="1.7" stroke-linecap="round" fill="none"/>
<g filter="url(#cellsoft)" fill="none" stroke-linecap="round">
<path d="M550.0 537.5l-0.2 2.9M540.5 542.1l-0.4 1.0M605.2 532.2l0.0 0.0M616.8 541.7l2.7 0.5M697.1 554.3l0.1 0.5M698.7 540.1l-2.0 0.7M712.3 535.1l-2.4 4.9M576.0 597.7l-0.1 0.4M615.1 579.4l-0.4 0.5M626.9 577.2l4.2 3.2M722.2 580.6l2.1 4.2M723.2 584.6l-1.0 0.8M702.2 600.1l-0.1 2.2M543.0 633.9l-0.1 1.4M532.4 607.5l3.8 2.9M518.0 612.3l1.2 0.5M616.4 633.9l0.3 0.2M674.1 612.5l-4.2 2.8M682.3 637.5l3.6 0.7M524.7 668.0l1.6 0.2M540.7 649.4l-0.0 0.0M524.1 666.8l0.2 0.3M537.7 659.2l0.0 0.0M577.6 676.6l0.0 0.0M612.4 654.6l-0.8 3.2M646.8 673.7l0.0 0.0M642.1 675.8l0.0 0.0M647.9 682.2l0.1 1.3M664.1 683.5l-0.0 0.0M723.5 654.7l-0.0 0.0" stroke="#46379c" stroke-width="5.2"/>
<path d="M547.9 537.4l3.0 0.8M574.5 530.2l-1.4 1.0M617.6 564.8l-0.0 0.0M611.7 555.0l-4.6 1.3M603.9 528.8l2.2 3.7M666.8 565.6l0.5 0.9M660.1 548.3l0.7 0.1M668.8 566.7l0.5 0.5M715.6 566.5l0.0 0.0M707.0 566.6l0.5 0.2M620.6 584.6l-0.2 0.1M711.3 604.4l-4.9 0.3M694.9 586.0l1.4 0.7M520.9 629.9l1.3 2.4M524.5 641.4l0.0 0.0M528.3 608.6l1.6 2.4M570.1 632.4l1.3 2.4M613.0 612.2l3.7 0.9M648.5 631.1l-0.7 5.2M673.0 632.9l0.3 5.4M688.6 616.3l0.7 0.3M711.4 621.3l2.3 1.8M705.2 630.8l-1.9 2.5M526.9 653.8l-0.2 2.3M520.7 671.5l-0.1 0.1M577.6 651.1l5.0 1.3M568.2 650.0l0.0 0.0M607.9 657.0l2.8 2.8M608.5 659.3l0.1 0.9M672.0 653.9l3.0 3.6M676.5 646.4l1.4 1.6M661.1 662.6l3.8 0.1M662.9 653.1l-0.4 0.8M665.2 653.8l-0.0 0.1" stroke="#46379c" stroke-width="6.6"/>
<path d="M544.7 536.8l-0.8 4.3M531.1 560.3l-1.2 0.5M586.6 565.9l-0.4 1.0M692.1 566.6l-0.0 0.0M627.3 597.3l-3.6 0.3M683.5 592.5l-0.6 0.8M698.6 579.1l0.0 0.0M700.9 600.8l0.0 0.0M542.8 617.5l0.0 0.1M610.0 607.1l0.5 2.1M623.7 633.6l-1.5 0.3M523.9 663.6l4.7 1.5M534.6 659.4l-4.0 1.4M558.1 665.2l0.1 0.2M683.9 663.4l2.9 4.5M681.5 665.2l-0.1 0.2" stroke="#46379c" stroke-width="8.2"/>
<path d="M543.0 547.8l-0.6 1.7M514.4 548.5l4.2 1.3M526.8 544.3l2.0 2.0M525.6 545.6l-2.2 1.7M562.2 531.0l-0.2 1.1M589.8 540.3l0.0 0.0M607.3 541.0l-1.2 1.8M624.7 528.2l1.7 4.7M641.7 540.6l0.4 3.3M703.4 534.4l-1.5 3.3M719.9 545.7l-1.9 0.4M534.4 593.5l1.5 0.1M565.0 578.5l-0.6 2.3M572.0 597.1l0.0 0.0M601.3 598.0l1.2 4.9M605.7 578.7l4.3 0.3M613.7 581.0l-4.0 3.2M603.9 573.2l-3.1 3.4M621.6 606.5l0.6 0.7M684.9 590.5l2.7 0.1M708.7 600.8l-1.0 2.1M698.0 575.1l3.9 3.6M596.5 634.5l-0.0 0.0M630.5 638.6l-1.1 2.9M654.1 619.6l-0.0 0.0M624.1 618.7l-3.6 3.0M621.4 639.2l-1.1 4.5M709.2 613.8l-0.6 2.2M721.7 615.4l-3.4 0.6M697.2 640.9l-1.8 2.7M532.0 658.3l0.0 0.3M545.4 673.8l3.8 0.5M528.0 676.9l3.5 0.1M541.3 648.0l4.7 1.0M581.4 646.8l-1.4 1.9M636.4 659.1l0.9 1.3M722.4 664.0l-2.4 3.3M696.8 654.7l-0.0 0.0" stroke="#4f3fa2" stroke-width="5.2"/>
<path d="M522.1 534.3l-0.2 0.9M519.9 542.7l-2.3 3.4M531.2 540.2l1.5 0.1M599.6 538.2l-0.4 0.3M608.4 567.6l0.0 0.0M687.5 535.0l-3.2 0.6M676.9 554.5l2.2 2.4M703.2 529.6l0.6 1.7M703.5 537.2l-0.0 0.0M691.3 558.8l-3.0 2.0M713.6 550.5l-0.5 0.2M721.2 557.0l2.7 2.6M547.0 598.9l-1.2 1.6M518.6 591.7l-0.0 0.0M580.5 595.6l0.3 1.8M588.2 569.5l0.0 0.0M620.2 595.1l-1.5 4.6M588.2 569.1l0.4 0.6M642.4 580.8l0.0 0.0M682.2 588.1l1.8 0.9M704.7 580.7l-0.0 0.0M546.7 621.5l0.0 0.0M532.6 619.0l1.3 4.6M525.9 644.6l0.0 0.0M544.9 617.5l0.3 2.2M550.3 629.5l3.0 0.8M553.7 618.0l0.0 0.0M576.1 614.9l0.5 0.2M618.7 616.2l-0.5 0.8M599.5 630.0l0.0 0.0M591.8 635.2l-5.0 1.8M649.0 636.6l0.0 0.0M634.8 614.5l4.7 1.1M647.2 642.9l0.0 0.0M656.2 626.7l-0.2 0.5M724.3 634.2l-3.9 0.3M693.6 639.6l-0.1 2.7M706.4 641.4l-1.3 2.3M702.1 609.6l3.0 1.0M526.5 655.8l-0.0 0.0M550.7 659.5l3.0 3.6M561.7 678.5l-0.0 0.0M580.1 683.2l0.0 0.0M601.7 652.8l0.0 0.0M588.4 662.7l0.0 0.0M604.4 666.4l4.0 3.4M588.2 675.7l0.0 0.0M636.9 670.6l-0.2 1.0M651.2 678.1l0.6 0.5M629.4 678.2l-0.2 5.1M672.7 651.6l-0.0 0.0M675.3 669.9l0.0 0.0M664.5 650.1l-1.4 0.0M659.3 675.4l0.3 3.3M656.3 676.8l0.0 0.3M708.7 652.5l-0.4 0.2" stroke="#4f3fa2" stroke-width="6.6"/>
<path d="M516.1 566.2l0.9 0.3M587.2 564.4l-1.2 1.8M608.0 555.4l-0.0 5.4M609.7 557.5l0.5 1.7M642.8 553.8l0.0 0.0M665.3 539.6l0.5 3.3M521.0 605.8l-1.4 1.2M516.0 594.6l3.0 0.9M555.3 583.1l5.1 0.1M619.5 583.8l-4.1 2.1M656.3 604.1l0.0 0.0M561.9 643.0l-0.0 0.0M563.6 618.9l-0.0 0.0M591.0 638.9l-0.5 1.3M589.8 631.7l-1.5 5.1M630.3 610.7l-0.2 1.9M663.2 633.6l3.4 2.1M721.4 625.0l0.0 0.0M563.4 657.6l-2.1 2.5M594.8 662.0l0.2 0.7M664.6 652.9l0.0 0.0M721.4 665.4l4.6 0.1M712.4 672.8l-1.1 2.7" stroke="#4f3fa2" stroke-width="8.2"/>
<path d="M525.6 543.0l-5.3 0.4M521.9 563.4l-1.7 2.4M612.5 561.4l-3.2 2.9M632.3 532.2l-2.1 3.2M647.2 534.8l0.0 0.0M698.4 562.1l0.0 0.0M692.2 537.0l-0.3 1.7M704.8 535.0l-0.8 0.2M699.4 541.5l-1.8 2.0M720.6 529.8l-1.1 0.6M536.9 599.8l-0.0 0.0M559.9 572.9l0.0 0.0M614.9 587.1l-0.0 0.0M673.8 585.5l2.6 0.7M683.4 576.9l-0.0 0.0M531.4 613.9l1.0 2.9M531.1 609.8l-0.0 0.0M525.6 638.5l2.4 2.8M696.1 637.0l-0.4 0.8M705.5 627.0l-0.0 0.0M706.3 643.6l1.0 4.1M536.0 661.9l1.4 2.6M572.9 654.4l-4.9 0.1M640.7 671.0l0.0 0.0M629.4 671.8l3.2 3.1M676.4 683.2l0.6 1.3M714.9 679.9l-2.4 2.6" stroke="#5747a8" stroke-width="5.2"/>
<path d="M520.7 538.7l1.8 0.3M544.4 538.7l-0.7 2.8M548.3 556.2l0.0 0.0M599.0 550.3l-0.2 3.5M589.0 544.5l-0.5 1.2M620.3 534.5l1.2 0.4M659.7 531.4l-0.1 0.0M690.3 542.3l0.0 0.0M541.0 581.4l0.0 0.0M528.6 583.3l-0.3 0.6M613.1 567.6l-2.6 2.4M629.5 592.1l-0.2 0.5M637.6 573.1l3.4 2.3M678.7 586.9l-1.4 4.8M660.7 594.9l1.3 0.5M709.9 584.7l-3.2 0.2M546.7 609.9l1.8 0.8M522.9 610.1l-4.5 1.3M586.5 639.2l1.3 2.1M591.0 628.8l1.1 1.2M644.5 639.6l-1.0 1.2M682.1 639.6l-0.0 0.0M713.6 638.0l-0.2 1.3M706.9 624.0l-0.0 0.0M708.8 614.7l1.6 4.5M524.0 664.9l1.4 2.4M525.7 683.3l0.3 2.1M540.1 663.2l3.5 1.9M539.9 674.2l0.0 0.0M575.5 672.6l-3.2 1.4M560.6 653.8l-2.7 4.3M561.4 681.7l-0.6 1.0M567.9 663.2l3.0 0.6M585.3 684.5l-0.1 0.0M622.9 656.1l-5.3 0.4M628.3 665.9l-3.0 0.9M684.0 675.4l0.0 0.0M664.1 666.2l-1.9 1.3M703.4 678.4l4.3 1.4M707.9 649.4l-0.3 0.8" stroke="#5747a8" stroke-width="6.6"/>
<path d="M530.0 529.8l1.7 1.2M548.3 532.9l2.5 1.2M518.3 566.5l1.7 3.9M585.1 539.6l-0.4 2.9M689.0 541.2l1.8 4.1M700.4 561.6l0.1 0.1M702.9 558.6l3.3 1.6M584.3 569.0l-4.8 0.1M596.4 578.2l0.0 0.0M699.2 600.0l-0.5 0.5M690.3 580.5l1.5 2.0M521.0 625.3l4.8 1.2M636.2 618.4l-1.6 1.5M685.0 619.8l-2.2 3.5M697.9 622.1l-4.1 1.3M691.0 645.1l0.0 0.0M550.6 648.2l0.5 3.0M617.2 657.8l-1.2 2.5M712.4 655.8l-2.8 1.4M719.1 663.6l3.7 2.6M720.5 673.1l-3.1 2.8M694.1 653.8l5.2 0.7" stroke="#5747a8" stroke-width="8.2"/>
<path d="M524.5 543.5l-3.2 3.8M555.6 543.9l2.1 4.3M670.6 548.9l4.1 0.3M693.4 540.3l-1.9 0.2M582.8 573.9l-1.6 2.3M559.9 588.8l-4.2 1.2M595.2 579.2l-0.0 0.0M717.5 606.1l0.8 0.7M705.0 588.1l-1.4 0.3M698.1 582.1l4.4 2.9M562.5 614.8l-0.0 0.0M613.5 634.3l0.8 3.4M643.6 630.5l-1.4 4.8M535.7 658.9l-1.4 2.6M583.5 678.1l-2.3 2.7M570.9 651.9l-0.9 1.1M628.9 649.6l-4.5 1.5M681.4 653.3l0.7 2.0M671.1 672.6l3.7 0.8" stroke="#6152ae" stroke-width="5.2"/>
<path d="M547.9 551.2l-1.8 2.3M634.2 533.5l-0.8 3.7M628.0 549.7l-0.0 0.0M678.6 549.9l1.1 0.3M672.1 560.3l1.5 1.8M659.8 548.4l-2.8 0.0M537.1 597.5l-2.2 1.5M585.0 568.6l0.6 0.8M576.8 593.1l-1.1 1.9M552.0 581.3l2.9 0.2M561.3 594.3l-2.0 1.9M596.3 579.6l0.8 0.4M607.6 582.5l-0.1 0.1M722.3 577.0l0.3 0.7M690.2 599.7l1.5 0.5M715.2 590.2l-1.9 0.7M524.2 614.6l0.3 4.7M542.9 612.0l-0.0 0.0M579.3 614.7l0.0 0.0M603.1 627.6l-1.3 0.9M711.1 613.4l0.9 1.5M694.6 634.4l0.0 0.0M536.8 670.4l0.3 0.2M542.9 670.3l-0.7 0.7M545.9 664.2l2.4 3.3M580.3 647.5l3.9 1.5M564.8 667.6l-0.0 0.0M559.9 648.7l-4.6 1.6M606.9 658.0l0.0 0.0M626.0 668.0l0.3 0.8M699.0 667.4l-0.3 1.8M702.0 648.4l-3.1 1.7" stroke="#6152ae" stroke-width="6.6"/>
<path d="M537.2 550.0l-0.9 0.0M518.5 541.5l1.0 0.3M565.6 548.9l-0.8 2.8M657.1 566.2l-1.3 0.1M677.4 534.8l-1.0 3.5M694.0 554.8l-0.1 0.0M582.3 572.3l-2.0 0.0M588.2 604.5l0.0 0.0M622.5 604.0l-0.0 4.3M682.9 579.4l3.9 1.3M568.6 633.4l-1.7 4.9M583.4 654.4l-0.7 2.8M665.1 676.3l-2.4 3.5M706.4 664.3l1.5 0.9" stroke="#6152ae" stroke-width="8.2"/>
<path d="M593.9 558.8l-1.3 0.0M589.8 539.3l-0.6 0.7M644.1 549.0l-1.3 0.7M525.6 594.6l-4.5 2.0M641.1 602.3l-3.2 2.4M518.3 616.9l1.0 1.5M517.1 640.4l-0.1 0.2M687.9 627.3l2.3 1.0M717.5 621.2l-4.7 1.4M541.9 647.9l0.3 1.7M652.2 677.2l-0.0 0.0M688.8 675.7l5.0 1.9M723.1 668.7l-2.5 1.5" stroke="#6b5fb5" stroke-width="5.2"/>
<path d="M646.2 533.7l3.1 2.8M719.5 542.3l-0.0 0.0M525.5 603.3l-4.9 0.8M555.2 588.3l-0.9 4.6M596.1 573.6l-0.0 0.0M617.4 582.6l-1.4 3.6M695.1 593.1l-1.9 0.3M717.1 596.6l-4.5 1.1M678.6 619.5l1.0 1.3M684.4 682.9l0.9 3.1M717.9 658.2l0.8 3.4M704.4 656.8l0.0 0.0" stroke="#6b5fb5" stroke-width="6.6"/>
<path d="M530.5 575.5l-3.4 3.8M541.0 598.0l1.4 4.9M643.8 569.6l-2.0 2.4M682.2 584.8l-0.0 0.0M570.4 627.0l3.2 3.4M539.6 661.7l1.9 0.3M632.4 679.3l0.0 0.0M714.4 645.9l-0.4 0.6" stroke="#6b5fb5" stroke-width="8.2"/>
</g></g>
<g clip-path="url(#qcTR)">
<path d="M841.3 650.1h0M728.9 548.7h0M734.9 597.5h0M901.8 563.9h0M905.0 561.5h0M899.2 596.9h0M753.2 640.0h0M756.4 637.6h0M921.9 595.8h0M925.1 593.4h0M787.8 561.4h0M756.6 579.0h0M900.6 563.2h0M903.8 560.8h0M914.8 640.5h0M918.0 638.1h0M740.6 579.1h0M743.8 576.7h0M739.2 580.7h0M742.4 578.3h0M874.9 680.0h0M878.1 677.6h0M772.9 563.1h0M776.1 560.7h0M872.7 617.4h0M875.9 615.0h0M811.8 590.7h0M815.0 588.3h0M879.8 660.2h0M827.3 645.8h0M920.0 610.5h0M754.2 606.2h0M757.4 603.8h0M819.1 619.1h0M793.4 592.8h0M830.7 614.4h0M724.0 598.3h0M831.5 583.1h0M834.7 580.7h0M865.0 624.5h0M868.2 622.1h0M724.2 611.5h0M883.0 623.1h0M886.2 620.7h0M869.0 580.6h0M861.1 654.6h0M864.3 652.2h0M814.1 595.1h0M817.3 592.7h0M794.7 540.3h0M797.9 537.9h0M810.7 565.9h0M796.9 629.4h0M800.1 627.0h0M843.3 619.5h0M880.5 665.9h0M838.0 535.2h0M841.2 532.8h0M816.6 540.5h0M819.8 538.1h0M824.7 603.6h0M740.8 612.1h0M744.0 609.7h0M793.5 597.5h0M904.4 555.9h0M907.6 553.5h0M848.3 637.1h0M778.6 635.1h0M781.8 632.7h0M819.8 672.1h0M823.0 669.7h0M900.7 636.6h0M796.8 578.1h0M841.0 541.0h0M844.2 538.6h0M868.2 533.5h0M871.4 531.1h0M747.0 636.3h0M750.2 633.9h0M852.2 586.3h0M731.5 680.8h0M725.1 542.1h0M728.3 539.7h0M909.0 584.1h0M912.2 581.7h0M889.8 555.3h0M893.0 552.9h0M883.7 620.9h0M892.9 533.4h0M886.1 618.1h0M868.6 611.5h0M866.2 569.2h0M908.3 630.0h0M743.9 565.5h0M747.1 563.1h0M847.1 561.5h0M850.3 559.1h0M872.5 602.4h0M875.7 600.0h0M924.8 533.1h0M910.3 644.9h0M913.5 642.5h0M773.5 631.5h0M776.7 629.1h0M920.6 612.7h0M923.8 610.3h0M818.4 679.6h0M821.6 677.2h0M873.4 552.1h0M876.6 549.7h0M775.0 634.2h0M782.1 610.9h0M735.1 595.8h0M738.3 593.4h0M882.0 662.7h0M804.2 668.2h0M835.0 670.7h0M838.2 668.3h0M793.8 645.2h0M921.8 665.2h0M812.6 595.4h0M777.9 568.8h0M781.1 566.4h0M742.1 659.5h0M745.3 657.1h0M801.4 676.9h0M804.6 674.5h0M905.8 584.0h0M920.2 612.3h0M790.1 572.1h0M877.4 674.7h0M880.6 672.3h0M913.7 537.3h0M768.0 635.8h0M903.9 619.2h0M812.9 631.3h0M816.1 628.9h0M753.5 653.1h0M895.0 540.4h0M898.2 538.0h0M874.8 610.1h0M878.0 607.7h0M868.8 614.4h0M872.0 612.0h0M775.4 628.1h0M796.7 564.5h0M866.3 634.0h0M869.5 631.6h0M892.8 574.0h0M914.4 679.5h0M770.4 634.0h0M773.6 631.6h0M878.3 574.9h0M732.4 674.8h0M735.6 672.4h0M789.2 620.4h0M902.5 597.7h0M905.7 595.3h0M748.8 620.6h0M752.0 618.2h0M741.5 602.5h0M744.7 600.1h0M798.7 613.4h0M789.4 634.8h0M792.6 632.4h0M792.1 579.0h0M795.3 576.6h0M739.9 612.9h0M810.1 624.0h0M837.7 537.8h0M840.9 535.4h0M784.3 665.3h0M787.5 662.9h0M844.0 552.1h0M847.2 549.7h0M754.5 635.3h0M757.7 632.9h0M819.4 645.2h0M806.9 669.4h0M769.1 560.2h0M770.3 583.6h0M842.5 589.8h0M845.7 587.4h0M731.8 595.7h0M884.5 545.1h0M887.7 542.7h0M754.9 664.5h0M758.1 662.1h0M829.4 645.7h0M725.0 649.8h0M728.2 647.4h0M844.6 612.4h0M900.6 631.0h0M903.8 628.6h0M748.0 575.0h0M800.9 650.9h0M804.1 648.5h0M765.0 605.6h0M908.3 619.8h0M911.5 617.4h0M930.4 590.9h0M933.6 588.5h0M781.0 568.1h0M784.2 565.7h0M804.3 591.5h0M871.7 613.5h0M767.1 611.0h0M728.3 556.8h0M731.5 554.4h0M759.4 605.5h0M927.8 586.8h0M764.7 543.7h0M896.6 626.8h0M899.8 624.4h0M830.2 670.7h0M833.4 668.3h0M913.6 625.6h0M916.8 623.2h0M759.0 623.4h0M842.6 569.1h0M845.8 566.7h0M868.6 599.9h0M871.8 597.5h0M860.7 559.9h0M798.4 611.8h0M842.2 551.4h0M925.7 603.0h0M928.9 600.6h0M908.5 629.3h0M911.7 626.9h0M918.2 563.0h0M786.2 563.0h0M789.4 560.6h0M843.4 646.2h0M846.6 643.8h0M915.0 615.0h0M918.2 612.6h0M852.8 614.3h0M913.8 663.1h0M917.0 660.7h0M887.9 558.8h0M734.3 558.6h0M737.5 556.2h0M763.2 630.9h0M851.5 677.0h0M854.7 674.6h0M836.9 549.5h0M840.1 547.1h0M808.4 648.1h0M832.5 649.9h0M835.7 647.5h0M792.0 599.8h0M879.7 604.4h0M882.9 602.0h0M811.5 576.3h0M726.7 675.2h0M729.9 672.8h0M775.9 665.3h0M779.1 662.9h0M824.8 565.0h0M828.0 562.6h0M764.9 559.3h0M768.1 556.9h0M902.0 675.4h0M786.7 582.5h0M789.9 580.1h0M796.4 655.5h0M799.6 653.1h0M883.6 606.9h0M886.8 604.5h0M813.1 598.9h0M775.0 577.1h0M778.2 574.7h0M884.2 536.4h0M837.6 634.0h0M840.8 631.6h0M870.2 634.8h0M888.2 680.8h0M726.8 565.0h0M730.0 562.6h0M829.0 560.6h0M886.9 637.4h0M890.1 635.0h0M833.4 677.9h0M809.3 534.1h0M857.6 603.6h0M917.1 557.3h0M920.3 554.9h0M853.0 533.0h0M856.2 530.6h0M901.7 571.8h0M865.3 653.0h0M861.2 645.9h0M864.4 643.5h0M773.9 667.0h0M776.8 588.3h0M780.0 585.9h0M801.5 541.9h0M803.1 538.9h0M760.4 541.7h0M895.3 565.2h0M902.8 560.5h0M743.9 655.6h0M747.1 653.2h0M774.9 673.8h0M778.1 671.4h0M852.1 590.5h0M895.3 669.9h0M896.6 601.4h0M846.8 552.0h0M873.8 570.5h0M867.1 644.0h0M821.9 619.8h0M825.1 617.4h0M837.9 600.0h0M841.1 597.6h0M794.9 614.2h0M798.1 611.8h0M842.2 536.3h0M845.4 533.9h0M777.2 536.3h0M780.4 533.9h0M823.7 623.7h0M914.1 591.3h0M750.0 570.6h0M753.2 568.2h0M907.8 647.7h0M912.1 645.4h0M890.1 552.7h0M893.3 550.3h0M805.6 613.8h0" stroke="#7f78a6" stroke-width="3.3" stroke-linecap="round" fill="none"/>
<path d="M841.3 650.1h0M728.9 548.7h0M734.9 597.5h0M901.8 563.9h0M905.0 561.5h0M899.2 596.9h0M753.2 640.0h0M756.4 637.6h0M921.9 595.8h0M925.1 593.4h0M787.8 561.4h0M756.6 579.0h0M900.6 563.2h0M903.8 560.8h0M914.8 640.5h0M918.0 638.1h0M740.6 579.1h0M743.8 576.7h0M739.2 580.7h0M742.4 578.3h0M874.9 680.0h0M878.1 677.6h0M772.9 563.1h0M776.1 560.7h0M872.7 617.4h0M875.9 615.0h0M811.8 590.7h0M815.0 588.3h0M879.8 660.2h0M827.3 645.8h0M920.0 610.5h0M754.2 606.2h0M757.4 603.8h0M819.1 619.1h0M793.4 592.8h0M830.7 614.4h0M724.0 598.3h0M831.5 583.1h0M834.7 580.7h0M865.0 624.5h0M868.2 622.1h0M724.2 611.5h0M883.0 623.1h0M886.2 620.7h0M869.0 580.6h0M861.1 654.6h0M864.3 652.2h0M814.1 595.1h0M817.3 592.7h0M794.7 540.3h0M797.9 537.9h0M810.7 565.9h0M796.9 629.4h0M800.1 627.0h0M843.3 619.5h0M880.5 665.9h0M838.0 535.2h0M841.2 532.8h0M816.6 540.5h0M819.8 538.1h0M824.7 603.6h0M740.8 612.1h0M744.0 609.7h0M793.5 597.5h0M904.4 555.9h0M907.6 553.5h0M848.3 637.1h0M778.6 635.1h0M781.8 632.7h0M819.8 672.1h0M823.0 669.7h0M900.7 636.6h0M796.8 578.1h0M841.0 541.0h0M844.2 538.6h0M868.2 533.5h0M871.4 531.1h0M747.0 636.3h0M750.2 633.9h0M852.2 586.3h0M731.5 680.8h0M725.1 542.1h0M728.3 539.7h0M909.0 584.1h0M912.2 581.7h0M889.8 555.3h0M893.0 552.9h0M883.7 620.9h0M892.9 533.4h0M886.1 618.1h0M868.6 611.5h0M866.2 569.2h0M908.3 630.0h0M743.9 565.5h0M747.1 563.1h0M847.1 561.5h0M850.3 559.1h0M872.5 602.4h0M875.7 600.0h0M924.8 533.1h0M910.3 644.9h0M913.5 642.5h0M773.5 631.5h0M776.7 629.1h0M920.6 612.7h0M923.8 610.3h0M818.4 679.6h0M821.6 677.2h0M873.4 552.1h0M876.6 549.7h0M775.0 634.2h0M782.1 610.9h0M735.1 595.8h0M738.3 593.4h0M882.0 662.7h0M804.2 668.2h0M835.0 670.7h0M838.2 668.3h0M793.8 645.2h0M921.8 665.2h0M812.6 595.4h0M777.9 568.8h0M781.1 566.4h0M742.1 659.5h0M745.3 657.1h0M801.4 676.9h0M804.6 674.5h0M905.8 584.0h0M920.2 612.3h0M790.1 572.1h0M877.4 674.7h0M880.6 672.3h0M913.7 537.3h0M768.0 635.8h0M903.9 619.2h0M812.9 631.3h0M816.1 628.9h0M753.5 653.1h0M895.0 540.4h0M898.2 538.0h0M874.8 610.1h0M878.0 607.7h0M868.8 614.4h0M872.0 612.0h0M775.4 628.1h0M796.7 564.5h0M866.3 634.0h0M869.5 631.6h0M892.8 574.0h0M914.4 679.5h0M770.4 634.0h0M773.6 631.6h0M878.3 574.9h0M732.4 674.8h0M735.6 672.4h0M789.2 620.4h0M902.5 597.7h0M905.7 595.3h0M748.8 620.6h0M752.0 618.2h0M741.5 602.5h0M744.7 600.1h0M798.7 613.4h0M789.4 634.8h0M792.6 632.4h0M792.1 579.0h0M795.3 576.6h0M739.9 612.9h0M810.1 624.0h0M837.7 537.8h0M840.9 535.4h0M784.3 665.3h0M787.5 662.9h0M844.0 552.1h0M847.2 549.7h0M754.5 635.3h0M757.7 632.9h0M819.4 645.2h0M806.9 669.4h0M769.1 560.2h0M770.3 583.6h0M842.5 589.8h0M845.7 587.4h0M731.8 595.7h0M884.5 545.1h0M887.7 542.7h0M754.9 664.5h0M758.1 662.1h0M829.4 645.7h0M725.0 649.8h0M728.2 647.4h0M844.6 612.4h0M900.6 631.0h0M903.8 628.6h0M748.0 575.0h0M800.9 650.9h0M804.1 648.5h0M765.0 605.6h0M908.3 619.8h0M911.5 617.4h0M930.4 590.9h0M933.6 588.5h0M781.0 568.1h0M784.2 565.7h0M804.3 591.5h0M871.7 613.5h0M767.1 611.0h0M728.3 556.8h0M731.5 554.4h0M759.4 605.5h0M927.8 586.8h0M764.7 543.7h0M896.6 626.8h0M899.8 624.4h0M830.2 670.7h0M833.4 668.3h0M913.6 625.6h0M916.8 623.2h0M759.0 623.4h0M842.6 569.1h0M845.8 566.7h0M868.6 599.9h0M871.8 597.5h0M860.7 559.9h0M798.4 611.8h0M842.2 551.4h0M925.7 603.0h0M928.9 600.6h0M908.5 629.3h0M911.7 626.9h0M918.2 563.0h0M786.2 563.0h0M789.4 560.6h0M843.4 646.2h0M846.6 643.8h0M915.0 615.0h0M918.2 612.6h0M852.8 614.3h0M913.8 663.1h0M917.0 660.7h0M887.9 558.8h0M734.3 558.6h0M737.5 556.2h0M763.2 630.9h0M851.5 677.0h0M854.7 674.6h0M836.9 549.5h0M840.1 547.1h0M808.4 648.1h0M832.5 649.9h0M835.7 647.5h0M792.0 599.8h0M879.7 604.4h0M882.9 602.0h0M811.5 576.3h0M726.7 675.2h0M729.9 672.8h0M775.9 665.3h0M779.1 662.9h0M824.8 565.0h0M828.0 562.6h0M764.9 559.3h0M768.1 556.9h0M902.0 675.4h0M786.7 582.5h0M789.9 580.1h0M796.4 655.5h0M799.6 653.1h0M883.6 606.9h0M886.8 604.5h0M813.1 598.9h0M775.0 577.1h0M778.2 574.7h0M884.2 536.4h0M837.6 634.0h0M840.8 631.6h0M870.2 634.8h0M888.2 680.8h0M726.8 565.0h0M730.0 562.6h0M829.0 560.6h0M886.9 637.4h0M890.1 635.0h0M833.4 677.9h0M809.3 534.1h0M857.6 603.6h0M917.1 557.3h0M920.3 554.9h0M853.0 533.0h0M856.2 530.6h0M901.7 571.8h0M865.3 653.0h0M861.2 645.9h0M864.4 643.5h0M773.9 667.0h0M776.8 588.3h0M780.0 585.9h0M801.5 541.9h0M803.1 538.9h0M760.4 541.7h0M895.3 565.2h0M902.8 560.5h0M743.9 655.6h0M747.1 653.2h0M774.9 673.8h0M778.1 671.4h0M852.1 590.5h0M895.3 669.9h0M896.6 601.4h0M846.8 552.0h0M873.8 570.5h0M867.1 644.0h0M821.9 619.8h0M825.1 617.4h0M837.9 600.0h0M841.1 597.6h0M794.9 614.2h0M798.1 611.8h0M842.2 536.3h0M845.4 533.9h0M777.2 536.3h0M780.4 533.9h0M823.7 623.7h0M914.1 591.3h0M750.0 570.6h0M753.2 568.2h0M907.8 647.7h0M912.1 645.4h0M890.1 552.7h0M893.3 550.3h0M805.6 613.8h0" stroke="#ebe9f1" stroke-width="1.7" stroke-linecap="round" fill="none"/>
<g filter="url(#cellsoft)" fill="none" stroke-linecap="round">
<path d="M843.4 536.3l0.0 0.0M779.6 605.9l1.9 1.1M769.7 612.1l2.3 2.5M774.2 632.5l0.4 1.3M799.9 629.7l-0.4 3.4M776.5 666.7l2.4 3.6" stroke="#46379c" stroke-width="5.2"/>
<path d="M743.4 555.4l1.3 1.5M775.0 562.4l-0.8 2.6M823.3 564.4l0.4 1.1M835.1 560.3l0.0 0.0M889.1 531.9l-0.1 1.2M883.5 551.9l1.3 2.7M803.2 594.2l3.6 0.7M847.4 586.3l-1.9 2.4M833.3 603.0l1.1 3.2M725.3 618.9l0.3 2.1M768.3 623.0l0.1 0.3M774.4 621.4l-1.0 2.4M859.6 607.3l0.9 1.7M874.2 618.0l0.9 4.5M730.3 657.7l-0.6 3.4M752.1 648.2l3.5 2.3" stroke="#46379c" stroke-width="6.6"/>
<path d="M860.4 539.9l0.1 0.0M802.7 584.4l-0.5 0.1M878.2 604.0l-1.5 4.9M907.5 664.4l-0.0 0.0" stroke="#46379c" stroke-width="8.2"/>
<path d="M766.4 562.8l-0.0 0.0M927.1 549.9l-2.8 0.9M752.0 578.1l-1.8 1.2M929.4 596.3l-0.0 0.0M759.2 625.2l0.0 0.0M743.6 677.4l-3.4 0.9M772.5 674.1l1.5 4.4M854.2 649.0l-3.4 0.5" stroke="#4f3fa2" stroke-width="5.2"/>
<path d="M735.7 551.7l2.8 2.9M824.9 533.9l0.1 3.9M830.6 529.2l-3.7 3.5M928.2 549.0l4.3 2.4M735.9 599.9l0.0 0.0M789.3 586.9l-2.3 3.1M799.7 569.3l1.1 0.5M802.8 595.8l-2.1 4.3M829.9 593.8l1.7 3.0M893.8 580.1l1.9 4.0M802.7 623.5l1.8 3.9M872.9 627.5l4.8 2.4" stroke="#4f3fa2" stroke-width="6.6"/>
<path d="M755.9 557.2l0.0 0.0M827.0 531.4l0.0 1.1M846.8 557.0l0.0 0.0M760.3 574.1l0.0 0.0M754.2 632.1l1.0 0.2M743.0 641.0l-0.0 0.0M813.3 627.1l3.3 0.5M823.0 623.0l-1.9 1.4M807.1 608.0l0.0 0.0M824.7 679.9l-0.0 0.0M926.6 671.1l0.0 0.0" stroke="#4f3fa2" stroke-width="8.2"/>
<path d="M751.3 557.1l2.5 1.4M745.5 543.6l-0.2 1.0M874.7 545.0l-0.9 0.5M921.9 536.1l-2.7 1.1M763.6 581.0l-3.2 0.4M792.2 600.7l4.2 3.5M916.4 589.2l0.6 0.5" stroke="#5747a8" stroke-width="5.2"/>
<path d="M743.4 544.7l-4.6 2.2M816.6 557.4l-3.0 1.2M837.3 537.4l-0.0 0.0M727.7 598.7l-0.5 0.8M812.4 570.0l-0.9 0.7M798.8 589.1l3.0 3.3M795.3 604.3l0.1 0.2M918.9 571.4l0.0 0.0M782.5 635.8l-2.0 1.1M802.0 630.3l-1.1 4.6M837.0 619.2l2.7 0.9M833.0 630.7l-1.2 1.5M770.3 662.1l-0.3 0.1M825.3 650.9l-1.2 2.5M815.4 655.4l1.2 0.7M858.7 653.4l0.4 0.6M845.6 673.3l-0.0 0.0" stroke="#5747a8" stroke-width="6.6"/>
<path d="M904.0 542.0l0.9 1.5M815.3 602.9l-0.4 0.6M903.3 613.7l-0.0 0.0M909.7 607.4l-0.5 3.2" stroke="#5747a8" stroke-width="8.2"/>
<path d="M882.9 529.4l-1.7 2.8M745.4 572.1l0.0 0.1M904.9 587.6l-4.1 3.4M784.6 626.6l4.4 1.5" stroke="#6152ae" stroke-width="5.2"/>
<path d="M787.3 560.3l0.2 1.3M792.0 552.9l-0.0 0.0M823.9 552.8l-0.0 0.0M921.0 536.0l-0.0 0.0M753.3 578.9l-1.1 3.4M784.5 631.3l0.0 0.0M787.0 626.1l0.1 0.1M852.5 616.4l-0.0 0.0M854.0 618.1l-0.0 1.8M751.0 658.1l2.2 4.2M890.6 679.2l-0.0 0.0M881.9 677.2l-3.6 1.0" stroke="#6152ae" stroke-width="6.6"/>
<path d="M785.4 558.8l0.0 0.0M730.0 605.8l-0.0 0.0M765.8 595.0l3.9 0.1M842.6 573.7l-1.1 1.1M873.1 593.8l0.1 1.9M804.0 625.7l-1.2 0.1M911.7 671.4l-3.9 2.8" stroke="#6152ae" stroke-width="8.2"/>
<path d="M830.7 598.4l0.0 0.0M895.8 635.3l-3.9 1.3M897.8 608.9l0.0 0.0" stroke="#6b5fb5" stroke-width="5.2"/>
<path d="M803.8 567.7l-0.5 0.2M915.4 586.8l-0.3 0.9M918.9 681.9l-0.3 5.4" stroke="#6b5fb5" stroke-width="6.6"/>
<path d="M836.7 578.2l0.5 0.7" stroke="#6b5fb5" stroke-width="8.2"/>
</g></g>
<g clip-path="url(#qcBL)">
<path d="M562.0 701.0h0M698.0 718.4h0M603.8 775.7h0M703.6 811.5h0M661.0 814.2h0M571.5 774.6h0M574.7 772.2h0M558.4 830.7h0M561.6 828.3h0M600.4 716.6h0M603.6 714.2h0M601.9 699.4h0M562.1 707.9h0M565.3 705.5h0M614.8 747.7h0M712.5 817.3h0M543.7 791.6h0M546.9 789.2h0M630.7 707.9h0M561.3 831.0h0M632.8 702.0h0M636.0 699.6h0M608.3 795.6h0M611.5 793.2h0M701.5 771.4h0M704.7 769.0h0M559.0 694.9h0M700.6 815.2h0M690.3 761.8h0M693.5 759.4h0M640.0 830.1h0M643.2 827.7h0M714.3 796.3h0M717.5 793.9h0M522.4 708.1h0M578.6 809.9h0M556.8 737.3h0M560.0 734.9h0M540.4 736.8h0M621.1 769.1h0M624.3 766.7h0M648.5 772.1h0M651.7 769.7h0M537.1 736.5h0M682.3 766.3h0M653.9 811.3h0M699.8 734.0h0M703.0 731.6h0M647.8 784.3h0M567.5 801.5h0M612.0 771.3h0M615.2 768.9h0M597.2 835.2h0M600.4 832.8h0M618.6 779.5h0M611.4 700.3h0M529.7 741.3h0M532.9 738.9h0M551.7 823.2h0M521.2 690.8h0M524.4 688.4h0M564.9 711.9h0M568.1 709.5h0M542.8 691.3h0M700.6 696.7h0M703.8 694.3h0M558.3 707.2h0M606.7 733.8h0M609.9 731.4h0M616.3 691.4h0M619.5 689.0h0M602.9 794.8h0M599.6 687.3h0M522.5 726.7h0M616.8 725.9h0M551.3 803.2h0M554.5 800.8h0M523.6 735.1h0M693.3 827.5h0M696.5 825.1h0M706.6 744.1h0M557.4 782.9h0M560.6 780.5h0M698.7 734.9h0M631.5 743.8h0M564.6 761.0h0M567.8 758.6h0M567.9 689.5h0M571.1 687.1h0M682.7 687.6h0M685.9 685.2h0M559.3 699.3h0M699.1 752.5h0M570.9 810.1h0M574.1 807.7h0M552.7 799.9h0M555.9 797.5h0M616.3 760.1h0M647.6 800.7h0M650.8 798.3h0M550.5 774.7h0M706.2 831.7h0M679.2 726.6h0M621.7 789.4h0M624.9 787.0h0M607.2 721.7h0M521.4 812.9h0M538.8 815.6h0M542.0 813.2h0M652.4 694.5h0M655.6 692.1h0M635.6 832.9h0M554.6 692.3h0M570.5 755.5h0M660.5 714.6h0M718.7 736.2h0M604.1 688.9h0M591.8 838.4h0M595.0 836.0h0M627.9 731.1h0M631.1 728.7h0M677.5 725.3h0M647.9 826.1h0M651.1 823.7h0M586.7 788.9h0M711.2 748.7h0M569.2 729.9h0M633.0 723.6h0M636.2 721.2h0M529.1 740.5h0M532.3 738.1h0M606.0 756.5h0M609.2 754.1h0M557.1 720.8h0M560.3 718.4h0M713.3 831.9h0M578.0 734.7h0M581.2 732.3h0M695.5 796.7h0M545.6 688.4h0M548.8 686.0h0M532.6 758.4h0M722.0 754.7h0M671.4 790.5h0M651.0 816.4h0M654.2 814.0h0M523.5 796.5h0M526.7 794.1h0M672.8 750.6h0M653.1 734.9h0M656.3 732.5h0M525.4 697.5h0M528.6 695.1h0M665.3 839.3h0M626.1 775.1h0M528.5 776.2h0M531.7 773.8h0M549.8 823.1h0M553.0 820.7h0M654.8 734.9h0M658.0 732.5h0M605.8 774.3h0M635.7 707.6h0M638.9 705.2h0M624.1 699.3h0M627.3 696.9h0M533.4 693.3h0M629.5 749.0h0M692.7 688.0h0M670.3 781.1h0M690.3 778.7h0M588.9 713.4h0M669.1 833.8h0M642.3 812.2h0M640.8 794.8h0M644.0 792.4h0M586.0 775.0h0M589.2 772.6h0M574.7 692.2h0M577.9 689.8h0M722.0 693.4h0M725.2 691.0h0M654.0 772.2h0M657.2 769.8h0M629.4 783.9h0M632.6 781.5h0M673.5 713.6h0M676.7 711.2h0M686.7 753.7h0M689.9 751.3h0M658.5 717.8h0M537.5 792.5h0M584.9 697.7h0M578.4 818.4h0M531.4 694.8h0M534.6 692.4h0M518.9 686.6h0M577.5 801.9h0M663.3 735.2h0M666.5 732.8h0M558.9 689.7h0M547.0 782.4h0M550.2 780.0h0M557.6 728.9h0M560.8 726.5h0M607.7 810.7h0M610.9 808.3h0M655.4 690.6h0M658.6 688.2h0M575.0 739.8h0M521.7 753.0h0M524.9 750.6h0M573.7 709.1h0M576.9 706.7h0M634.0 817.4h0M593.9 693.3h0M597.1 690.9h0M664.9 740.9h0M668.1 738.5h0M557.8 819.7h0M609.5 759.5h0M612.7 757.1h0M611.4 822.0h0M656.6 737.7h0M659.8 735.3h0M656.2 760.3h0M659.4 757.9h0M548.0 734.2h0M551.2 731.8h0M643.1 710.2h0M560.5 779.9h0M668.4 810.3h0M544.3 742.7h0M547.5 740.3h0M714.6 731.6h0M696.1 786.2h0M612.3 816.0h0M586.0 746.9h0M539.6 786.7h0M602.8 699.0h0M526.0 711.8h0M525.6 829.4h0M528.8 827.0h0M587.3 708.0h0M555.9 789.1h0M559.1 786.7h0M547.6 706.0h0M550.8 703.6h0M530.0 838.7h0M533.2 836.3h0M713.5 725.3h0M552.7 785.1h0M555.9 782.7h0M521.8 707.4h0M525.0 705.0h0M531.6 698.7h0M534.8 696.3h0M643.3 721.8h0M655.9 798.6h0M716.0 736.5h0M710.1 809.0h0M697.2 762.5h0M700.4 760.1h0M607.6 799.6h0M610.8 797.2h0M536.3 820.8h0M539.5 818.4h0M711.9 808.7h0M715.1 806.3h0M720.3 708.9h0M723.5 706.5h0M535.6 710.8h0M538.8 708.4h0M530.2 795.2h0M533.4 792.8h0M600.6 749.9h0M603.8 747.5h0M688.5 711.4h0M542.2 798.3h0M545.4 795.9h0M549.0 807.3h0M552.2 804.9h0M679.0 739.2h0M682.2 736.8h0M532.5 821.3h0M535.7 818.9h0M692.0 720.2h0M627.1 789.6h0M630.3 787.2h0M610.5 747.1h0M661.1 734.5h0M719.9 773.3h0M693.4 799.3h0M522.4 760.8h0M644.7 798.8h0M647.9 796.4h0M536.8 705.0h0M540.0 702.6h0" stroke="#7f78a6" stroke-width="3.3" stroke-linecap="round" fill="none"/>
<path d="M562.0 701.0h0M698.0 718.4h0M603.8 775.7h0M703.6 811.5h0M661.0 814.2h0M571.5 774.6h0M574.7 772.2h0M558.4 830.7h0M561.6 828.3h0M600.4 716.6h0M603.6 714.2h0M601.9 699.4h0M562.1 707.9h0M565.3 705.5h0M614.8 747.7h0M712.5 817.3h0M543.7 791.6h0M546.9 789.2h0M630.7 707.9h0M561.3 831.0h0M632.8 702.0h0M636.0 699.6h0M608.3 795.6h0M611.5 793.2h0M701.5 771.4h0M704.7 769.0h0M559.0 694.9h0M700.6 815.2h0M690.3 761.8h0M693.5 759.4h0M640.0 830.1h0M643.2 827.7h0M714.3 796.3h0M717.5 793.9h0M522.4 708.1h0M578.6 809.9h0M556.8 737.3h0M560.0 734.9h0M540.4 736.8h0M621.1 769.1h0M624.3 766.7h0M648.5 772.1h0M651.7 769.7h0M537.1 736.5h0M682.3 766.3h0M653.9 811.3h0M699.8 734.0h0M703.0 731.6h0M647.8 784.3h0M567.5 801.5h0M612.0 771.3h0M615.2 768.9h0M597.2 835.2h0M600.4 832.8h0M618.6 779.5h0M611.4 700.3h0M529.7 741.3h0M532.9 738.9h0M551.7 823.2h0M521.2 690.8h0M524.4 688.4h0M564.9 711.9h0M568.1 709.5h0M542.8 691.3h0M700.6 696.7h0M703.8 694.3h0M558.3 707.2h0M606.7 733.8h0M609.9 731.4h0M616.3 691.4h0M619.5 689.0h0M602.9 794.8h0M599.6 687.3h0M522.5 726.7h0M616.8 725.9h0M551.3 803.2h0M554.5 800.8h0M523.6 735.1h0M693.3 827.5h0M696.5 825.1h0M706.6 744.1h0M557.4 782.9h0M560.6 780.5h0M698.7 734.9h0M631.5 743.8h0M564.6 761.0h0M567.8 758.6h0M567.9 689.5h0M571.1 687.1h0M682.7 687.6h0M685.9 685.2h0M559.3 699.3h0M699.1 752.5h0M570.9 810.1h0M574.1 807.7h0M552.7 799.9h0M555.9 797.5h0M616.3 760.1h0M647.6 800.7h0M650.8 798.3h0M550.5 774.7h0M706.2 831.7h0M679.2 726.6h0M621.7 789.4h0M624.9 787.0h0M607.2 721.7h0M521.4 812.9h0M538.8 815.6h0M542.0 813.2h0M652.4 694.5h0M655.6 692.1h0M635.6 832.9h0M554.6 692.3h0M570.5 755.5h0M660.5 714.6h0M718.7 736.2h0M604.1 688.9h0M591.8 838.4h0M595.0 836.0h0M627.9 731.1h0M631.1 728.7h0M677.5 725.3h0M647.9 826.1h0M651.1 823.7h0M586.7 788.9h0M711.2 748.7h0M569.2 729.9h0M633.0 723.6h0M636.2 721.2h0M529.1 740.5h0M532.3 738.1h0M606.0 756.5h0M609.2 754.1h0M557.1 720.8h0M560.3 718.4h0M713.3 831.9h0M578.0 734.7h0M581.2 732.3h0M695.5 796.7h0M545.6 688.4h0M548.8 686.0h0M532.6 758.4h0M722.0 754.7h0M671.4 790.5h0M651.0 816.4h0M654.2 814.0h0M523.5 796.5h0M526.7 794.1h0M672.8 750.6h0M653.1 734.9h0M656.3 732.5h0M525.4 697.5h0M528.6 695.1h0M665.3 839.3h0M626.1 775.1h0M528.5 776.2h0M531.7 773.8h0M549.8 823.1h0M553.0 820.7h0M654.8 734.9h0M658.0 732.5h0M605.8 774.3h0M635.7 707.6h0M638.9 705.2h0M624.1 699.3h0M627.3 696.9h0M533.4 693.3h0M629.5 749.0h0M692.7 688.0h0M670.3 781.1h0M690.3 778.7h0M588.9 713.4h0M669.1 833.8h0M642.3 812.2h0M640.8 794.8h0M644.0 792.4h0M586.0 775.0h0M589.2 772.6h0M574.7 692.2h0M577.9 689.8h0M722.0 693.4h0M725.2 691.0h0M654.0 772.2h0M657.2 769.8h0M629.4 783.9h0M632.6 781.5h0M673.5 713.6h0M676.7 711.2h0M686.7 753.7h0M689.9 751.3h0M658.5 717.8h0M537.5 792.5h0M584.9 697.7h0M578.4 818.4h0M531.4 694.8h0M534.6 692.4h0M518.9 686.6h0M577.5 801.9h0M663.3 735.2h0M666.5 732.8h0M558.9 689.7h0M547.0 782.4h0M550.2 780.0h0M557.6 728.9h0M560.8 726.5h0M607.7 810.7h0M610.9 808.3h0M655.4 690.6h0M658.6 688.2h0M575.0 739.8h0M521.7 753.0h0M524.9 750.6h0M573.7 709.1h0M576.9 706.7h0M634.0 817.4h0M593.9 693.3h0M597.1 690.9h0M664.9 740.9h0M668.1 738.5h0M557.8 819.7h0M609.5 759.5h0M612.7 757.1h0M611.4 822.0h0M656.6 737.7h0M659.8 735.3h0M656.2 760.3h0M659.4 757.9h0M548.0 734.2h0M551.2 731.8h0M643.1 710.2h0M560.5 779.9h0M668.4 810.3h0M544.3 742.7h0M547.5 740.3h0M714.6 731.6h0M696.1 786.2h0M612.3 816.0h0M586.0 746.9h0M539.6 786.7h0M602.8 699.0h0M526.0 711.8h0M525.6 829.4h0M528.8 827.0h0M587.3 708.0h0M555.9 789.1h0M559.1 786.7h0M547.6 706.0h0M550.8 703.6h0M530.0 838.7h0M533.2 836.3h0M713.5 725.3h0M552.7 785.1h0M555.9 782.7h0M521.8 707.4h0M525.0 705.0h0M531.6 698.7h0M534.8 696.3h0M643.3 721.8h0M655.9 798.6h0M716.0 736.5h0M710.1 809.0h0M697.2 762.5h0M700.4 760.1h0M607.6 799.6h0M610.8 797.2h0M536.3 820.8h0M539.5 818.4h0M711.9 808.7h0M715.1 806.3h0M720.3 708.9h0M723.5 706.5h0M535.6 710.8h0M538.8 708.4h0M530.2 795.2h0M533.4 792.8h0M600.6 749.9h0M603.8 747.5h0M688.5 711.4h0M542.2 798.3h0M545.4 795.9h0M549.0 807.3h0M552.2 804.9h0M679.0 739.2h0M682.2 736.8h0M532.5 821.3h0M535.7 818.9h0M692.0 720.2h0M627.1 789.6h0M630.3 787.2h0M610.5 747.1h0M661.1 734.5h0M719.9 773.3h0M693.4 799.3h0M522.4 760.8h0M644.7 798.8h0M647.9 796.4h0M536.8 705.0h0M540.0 702.6h0" stroke="#ebe9f1" stroke-width="1.7" stroke-linecap="round" fill="none"/>
<g filter="url(#cellsoft)" fill="none" stroke-linecap="round">
<path d="M553.8 702.4l-2.6 3.0M564.6 684.2l3.1 4.2M611.6 707.1l4.2 2.5M589.9 698.9l-2.6 1.0M630.8 697.9l-0.0 0.0M624.0 694.4l2.2 0.4M624.7 695.7l-2.6 1.4M684.9 685.0l-2.8 0.6M647.2 747.2l0.1 1.6M633.9 759.4l1.2 4.2M636.8 738.6l-3.3 2.5M650.8 737.5l2.0 0.6M525.8 791.5l-3.1 0.9M592.0 789.7l0.1 3.2M640.7 768.6l-4.9 0.6M658.5 769.2l-0.0 0.0M570.3 804.9l4.5 2.5M634.8 820.3l-0.7 0.5M649.9 829.9l1.0 4.4M621.6 820.8l-0.2 1.7" stroke="#46379c" stroke-width="5.2"/>
<path d="M539.3 701.4l0.0 0.0M517.1 696.1l-0.2 0.2M575.8 714.8l0.2 0.0M609.5 701.9l0.6 0.3M608.4 709.5l0.0 0.0M693.5 691.6l-1.6 2.3M572.9 747.4l0.0 0.0M669.0 730.0l-3.7 1.5M686.2 760.9l1.3 0.5M701.5 753.1l-1.4 0.2M595.7 789.2l-2.3 4.7M634.1 784.7l2.9 2.3M687.4 776.0l-0.6 0.3M552.5 814.6l1.0 0.7M625.2 823.6l0.1 2.3M704.2 835.4l1.3 1.4M697.3 827.2l-1.6 0.8M707.6 824.9l0.5 0.9" stroke="#46379c" stroke-width="6.6"/>
<path d="M527.2 691.6l0.0 0.0M558.5 757.6l0.1 1.6M559.8 730.1l-3.0 1.4M651.3 758.2l-2.2 3.6M683.5 744.9l-1.8 0.7M706.6 725.3l-0.0 0.2M595.3 771.1l0.3 1.1M607.3 797.4l3.2 2.4M674.2 783.1l0.2 3.9M552.3 816.0l0.0 0.0M561.7 820.8l0.3 5.2M628.3 801.9l-0.0 0.0" stroke="#46379c" stroke-width="8.2"/>
<path d="M583.3 692.4l-0.7 1.2M609.3 685.4l-0.0 0.0M533.0 750.6l2.5 3.6M538.0 762.2l-0.1 0.5M599.6 730.9l-1.1 0.6M632.0 750.1l1.9 0.0M664.3 745.3l0.0 0.0M517.1 773.3l0.0 1.1M552.2 783.3l1.1 2.7M585.6 762.8l-0.0 0.0M626.3 797.5l3.2 1.9M641.3 773.4l3.0 2.5M655.2 779.2l-0.0 0.0M689.8 772.2l-0.6 1.1M718.5 768.6l-0.9 4.0M525.7 813.9l-0.4 0.4M516.8 839.8l-0.0 0.0M528.0 829.3l-1.0 5.1M526.7 801.6l-4.1 0.5M596.5 831.4l-0.1 1.1M647.3 822.0l-3.9 3.3" stroke="#4f3fa2" stroke-width="5.2"/>
<path d="M602.7 720.5l0.0 0.0M642.9 706.9l-0.1 0.1M665.8 703.7l0.0 0.0M694.0 691.1l2.6 4.8M696.5 689.7l-3.1 3.6M712.2 704.2l-0.1 0.9M606.1 732.3l1.5 3.0M632.3 755.0l-4.1 3.2M642.5 754.7l-0.0 0.0M674.7 755.6l-0.3 0.3M704.5 739.3l2.8 0.0M549.3 777.8l5.0 0.1M575.0 798.0l-0.7 2.9M559.6 779.5l-0.0 0.0M722.1 794.2l-2.8 0.2M708.3 764.1l0.0 0.0M703.4 795.0l-4.9 1.4M550.0 836.1l0.0 0.0M570.4 835.4l1.1 0.3M568.9 815.3l0.0 0.0M606.9 807.2l0.0 0.0M613.1 836.9l0.2 0.2M625.5 830.8l-1.9 0.5M684.3 835.1l2.3 2.3" stroke="#4f3fa2" stroke-width="6.6"/>
<path d="M538.6 688.3l-0.5 1.7M710.6 708.6l-0.0 0.0M670.7 739.3l3.1 1.8M690.7 729.4l-0.4 3.7M542.5 800.5l0.3 0.2M533.2 796.1l-0.0 0.0M573.0 796.4l-3.4 0.2M559.9 795.5l-2.0 0.8M557.0 762.0l2.3 2.9M628.4 781.2l-1.8 3.9M705.8 767.6l-2.9 2.3M538.7 820.0l0.0 0.0M561.9 835.2l-3.5 0.5M594.2 806.8l2.4 1.1M588.0 803.4l-0.0 0.0M639.9 836.5l-2.0 2.3" stroke="#4f3fa2" stroke-width="8.2"/>
<path d="M606.1 688.3l2.9 3.4M635.4 690.6l-2.2 0.3M520.3 784.1l-0.0 0.0M583.7 779.5l3.8 0.4M640.9 778.4l2.7 1.5M711.4 789.2l0.0 0.0M623.3 834.6l0.0 0.0" stroke="#5747a8" stroke-width="5.2"/>
<path d="M531.8 692.2l0.0 0.0M574.5 707.2l1.1 2.5M600.1 710.7l-0.4 2.3M618.2 705.5l-2.1 3.5M610.4 718.5l1.5 5.0M536.0 745.0l-4.0 1.8M520.8 750.9l-4.0 1.1M606.2 760.9l-1.6 3.4M627.1 723.3l-0.7 1.5M636.9 757.5l-0.0 1.6M688.3 736.7l0.2 0.0M710.8 731.8l-0.0 0.0M716.6 723.6l1.0 0.2M676.5 763.1l2.8 2.9M536.2 829.5l-0.1 4.8M570.1 819.5l-2.2 4.4M583.1 831.0l0.0 0.0M568.7 814.9l2.4 0.7M605.7 808.3l-0.3 0.6M616.5 810.1l-1.4 1.9M678.1 834.3l0.3 0.3M721.9 823.5l-4.7 2.8" stroke="#5747a8" stroke-width="6.6"/>
<path d="M558.9 690.6l-1.7 1.9M646.8 724.8l1.5 3.9M655.5 746.5l-0.0 0.0M691.1 737.0l-2.0 4.1M703.7 737.6l0.0 0.0M645.5 768.5l3.9 3.9M644.8 801.2l0.0 0.0M518.6 802.3l-0.0 0.0M581.2 824.9l-1.5 3.9M616.7 806.1l-0.7 1.0M672.6 835.7l-1.4 4.3M715.7 823.0l-0.0 0.0" stroke="#5747a8" stroke-width="8.2"/>
<path d="M555.5 687.6l-0.0 0.0M641.0 707.3l-3.2 1.1M563.6 756.1l-0.0 0.0M599.0 723.3l2.7 2.0M635.4 758.5l0.2 0.4M544.6 789.4l-2.0 0.3M579.4 771.9l-0.7 0.8M553.0 830.2l0.3 0.0M643.2 823.0l-5.1 1.2M685.8 823.7l-1.0 0.9" stroke="#6152ae" stroke-width="5.2"/>
<path d="M569.5 691.8l-4.4 0.3M696.1 722.1l-0.9 0.6M550.2 723.7l-5.3 1.1M606.6 725.0l-1.9 0.1M696.5 724.7l3.3 4.4M694.7 744.7l-0.1 0.5M519.6 791.2l1.6 0.5M542.9 769.5l0.0 0.0M617.8 779.2l0.5 0.3M587.6 781.9l-3.5 2.9M633.8 763.8l-0.5 0.7M629.1 766.1l0.1 0.2M707.3 776.4l-0.0 3.4M602.2 805.7l-4.8 1.1M685.8 831.9l-0.4 3.5" stroke="#6152ae" stroke-width="6.6"/>
<path d="M677.4 689.9l-1.3 0.2M696.0 689.6l-4.1 0.8M555.8 792.1l-1.1 4.3M601.4 812.9l0.0 0.0M676.7 818.1l-0.4 0.7" stroke="#6152ae" stroke-width="8.2"/>
<path d="M713.0 698.9l0.5 1.0M678.8 800.1l1.8 0.6M546.1 801.9l-0.0 0.0" stroke="#6b5fb5" stroke-width="5.2"/>
<path d="M595.2 725.3l-0.0 0.0M533.8 813.6l0.3 1.1" stroke="#6b5fb5" stroke-width="6.6"/>
<path d="M556.1 791.4l-0.9 1.8" stroke="#6b5fb5" stroke-width="8.2"/>
</g></g>
<g clip-path="url(#qcBR)">
<path d="M918.3 762.1h0M807.9 747.5h0M929.7 747.4h0M758.5 806.9h0M761.7 804.5h0M911.6 729.1h0M914.8 726.7h0M850.5 813.4h0M812.1 837.2h0M815.3 834.8h0M783.9 725.6h0M787.1 723.2h0M886.7 737.2h0M823.3 790.8h0M815.8 831.6h0M819.0 829.2h0M757.8 767.8h0M761.0 765.4h0M826.7 771.8h0M829.9 769.4h0M768.3 737.3h0M903.3 689.8h0M906.5 687.4h0M928.5 788.0h0M834.8 705.0h0M838.0 702.6h0M811.2 698.0h0M728.3 779.1h0M802.7 798.2h0M800.8 703.2h0M804.0 700.8h0M850.9 815.5h0M854.1 813.1h0M924.7 687.7h0M844.1 839.7h0M907.6 828.3h0M769.3 756.5h0M754.4 829.6h0M757.6 827.2h0M753.1 725.5h0M756.3 723.1h0M758.7 835.3h0M761.9 832.9h0M744.5 707.0h0M746.1 818.0h0M749.3 815.6h0M775.7 698.3h0M854.7 726.5h0M857.9 724.1h0M736.9 713.3h0M740.1 710.9h0M727.8 697.0h0M811.1 835.8h0M814.3 833.4h0M854.9 709.8h0M772.4 726.2h0M725.8 797.3h0M729.0 794.9h0M877.5 778.4h0M880.7 776.0h0M774.9 831.4h0M752.4 783.4h0M755.6 781.0h0M780.8 811.3h0M784.0 808.9h0M866.4 695.1h0M869.6 692.7h0M729.0 703.1h0M880.1 830.8h0M735.1 816.7h0M738.3 814.3h0M756.1 806.3h0M759.3 803.9h0M797.3 797.1h0M884.8 813.6h0M724.7 765.9h0M727.9 763.5h0M847.3 782.4h0M850.5 780.0h0M900.5 710.8h0M903.7 708.4h0M853.4 832.7h0M856.6 830.3h0M860.5 803.8h0M863.7 801.4h0M903.5 781.7h0M754.0 761.9h0M757.2 759.5h0M924.9 771.8h0M888.9 824.9h0M892.1 822.5h0M767.3 809.0h0M770.5 806.6h0M762.2 692.5h0M831.3 715.6h0M751.0 731.8h0M754.2 729.4h0M798.0 825.1h0M749.7 731.9h0M752.9 729.5h0M855.2 779.2h0M820.2 709.2h0M823.4 706.8h0M919.4 736.2h0M868.7 811.8h0M799.8 813.0h0M803.0 810.6h0M909.6 779.5h0M912.8 777.1h0M751.2 759.1h0M754.4 756.7h0M769.3 695.7h0M772.5 693.3h0M914.5 836.5h0M788.8 690.6h0M811.4 820.7h0M814.6 818.3h0M831.3 710.1h0M814.2 685.6h0M817.4 683.2h0M928.6 717.8h0M846.4 794.1h0M849.6 791.7h0M922.7 724.8h0M831.9 789.8h0M835.1 787.4h0M806.4 730.2h0M809.6 727.8h0M734.1 737.1h0M727.8 779.9h0M743.0 812.4h0M865.1 824.2h0M758.3 774.0h0M761.5 771.6h0M794.2 803.4h0M797.4 801.0h0M876.6 686.5h0M879.8 684.1h0M735.6 750.8h0M738.8 748.4h0M861.1 750.8h0M762.1 702.1h0M765.3 699.7h0M844.1 766.5h0M750.8 821.0h0M901.7 692.4h0M734.9 830.6h0M738.1 828.2h0M811.0 738.8h0M814.2 736.4h0M822.5 775.2h0M825.7 772.8h0M744.3 691.7h0M747.5 689.3h0M908.5 710.3h0M911.7 707.9h0M831.5 748.1h0M797.4 737.0h0M741.2 800.7h0M852.1 765.4h0M855.3 763.0h0M773.8 777.6h0M777.0 775.2h0M857.3 801.3h0M837.7 696.3h0M840.9 693.9h0M812.5 731.3h0M815.7 728.9h0M806.0 777.5h0M872.1 787.2h0M875.3 784.8h0M903.2 802.1h0M906.4 799.7h0M913.0 816.5h0M916.2 814.1h0M740.7 695.1h0M734.7 807.7h0M737.9 805.3h0M819.9 730.6h0M927.9 776.7h0M931.1 774.3h0M826.1 767.9h0M789.6 797.3h0M792.8 794.9h0M790.0 761.6h0M863.6 755.7h0M742.7 759.6h0M745.9 757.2h0M923.2 828.6h0M926.4 826.2h0M926.4 815.8h0M929.6 813.4h0M853.9 810.8h0M857.1 808.4h0M854.9 705.7h0M871.5 738.2h0M853.4 769.5h0M856.6 767.1h0M763.6 834.4h0M837.9 714.7h0M841.1 712.3h0M900.8 832.8h0M729.6 738.7h0M772.2 694.0h0M910.1 710.3h0M913.3 707.9h0M917.0 703.5h0M920.2 701.1h0M732.9 834.3h0M736.1 831.9h0M744.5 748.3h0M747.7 745.9h0M910.1 713.4h0M913.3 711.0h0M764.2 787.4h0M767.4 785.0h0M832.9 759.1h0M888.6 751.4h0M891.8 749.0h0M861.5 728.7h0M796.0 710.6h0M929.9 818.5h0M860.8 699.5h0M864.0 697.1h0M896.0 710.4h0M916.7 764.9h0M919.9 762.5h0M743.9 807.3h0M747.1 804.9h0M749.1 735.7h0M752.3 733.3h0M739.9 827.4h0M800.5 818.2h0M803.7 815.8h0M802.0 704.5h0M727.6 723.0h0M828.5 809.3h0M804.4 833.4h0M825.1 792.9h0M828.3 790.5h0M758.8 802.4h0M762.0 800.0h0M903.4 694.0h0M906.6 691.6h0M882.3 706.6h0M885.5 704.2h0M882.7 766.5h0M900.9 762.7h0M904.1 760.3h0M867.8 732.5h0M744.1 769.7h0M747.3 767.3h0M725.3 707.4h0M728.5 705.0h0M736.8 836.9h0M754.8 695.5h0M758.0 693.1h0M903.5 710.7h0M783.2 748.1h0M875.4 814.4h0M853.2 745.6h0M868.1 778.5h0M871.3 776.1h0M891.0 815.0h0M787.7 769.3h0M790.9 766.9h0M872.4 775.9h0M829.0 702.1h0M744.6 742.1h0M747.8 739.7h0M843.3 804.8h0M846.5 802.4h0M794.0 775.7h0M832.2 829.0h0M835.4 826.6h0M815.9 762.3h0M819.1 759.9h0M734.9 775.7h0M829.4 743.8h0M832.6 741.4h0M756.8 705.3h0M735.2 723.2h0M738.4 720.8h0M884.4 814.2h0M867.9 813.7h0M898.6 753.2h0M901.8 750.8h0M919.5 743.3h0M922.7 740.9h0M745.7 787.9h0M803.4 803.9h0M885.8 738.4h0M889.0 736.0h0M872.2 780.1h0M732.5 812.9h0M735.7 810.5h0M812.3 753.8h0M815.5 751.4h0M834.8 796.8h0M930.6 729.4h0M933.8 727.0h0M820.6 784.1h0M890.5 783.9h0M893.7 781.5h0M747.3 827.8h0M803.8 785.4h0M807.0 783.0h0M883.1 753.1h0M917.5 794.6h0M920.7 792.2h0M891.9 836.9h0M895.1 834.5h0M806.5 715.4h0M769.5 805.2h0M854.2 707.5h0M750.7 748.3h0M753.9 745.9h0M812.2 794.4h0M815.4 792.0h0M802.6 709.5h0M805.8 707.1h0M929.1 823.6h0M755.8 778.5h0M849.8 831.6h0M853.0 829.2h0M785.4 758.5h0M788.6 756.1h0M866.2 729.3h0M869.4 726.9h0M769.4 767.0h0M843.5 752.5h0M892.5 739.1h0M909.9 782.5h0M835.7 792.7h0M871.9 709.8h0M875.1 707.4h0M786.4 749.1h0M789.6 746.7h0M927.7 779.7h0M864.1 751.2h0M895.4 717.4h0M898.6 715.0h0M885.1 735.4h0M888.3 733.0h0M830.6 827.4h0M833.8 825.0h0M909.7 777.9h0M912.9 775.5h0M852.8 687.7h0M856.0 685.3h0M828.9 779.8h0M915.9 824.5h0M919.1 822.1h0M905.5 726.0h0M908.7 723.6h0M922.1 767.2h0M925.3 764.8h0M900.7 694.4h0M803.9 797.6h0M807.1 795.2h0M872.0 833.7h0M875.2 831.3h0M754.0 766.5h0M757.2 764.1h0M860.6 726.9h0M917.6 685.6h0M920.8 683.2h0M919.9 738.7h0M923.1 736.3h0M794.4 823.8h0M782.1 793.5h0M785.3 791.1h0M820.6 800.6h0M833.5 755.6h0M734.3 692.6h0M819.1 758.8h0M820.1 767.7h0M790.7 794.1h0M793.9 791.7h0M928.6 811.3h0M931.8 808.9h0M865.1 725.4h0M868.3 723.0h0M800.7 804.9h0M792.9 731.0h0M923.1 788.0h0M926.3 785.6h0M882.4 774.1h0M885.6 771.7h0M753.4 820.2h0M756.6 817.8h0M841.6 800.8h0M814.9 729.1h0M818.1 726.7h0M798.4 794.1h0M800.6 749.8h0M910.0 692.0h0M913.2 689.6h0M775.2 779.3h0" stroke="#7f78a6" stroke-width="3.3" stroke-linecap="round" fill="none"/>
<path d="M918.3 762.1h0M807.9 747.5h0M929.7 747.4h0M758.5 806.9h0M761.7 804.5h0M911.6 729.1h0M914.8 726.7h0M850.5 813.4h0M812.1 837.2h0M815.3 834.8h0M783.9 725.6h0M787.1 723.2h0M886.7 737.2h0M823.3 790.8h0M815.8 831.6h0M819.0 829.2h0M757.8 767.8h0M761.0 765.4h0M826.7 771.8h0M829.9 769.4h0M768.3 737.3h0M903.3 689.8h0M906.5 687.4h0M928.5 788.0h0M834.8 705.0h0M838.0 702.6h0M811.2 698.0h0M728.3 779.1h0M802.7 798.2h0M800.8 703.2h0M804.0 700.8h0M850.9 815.5h0M854.1 813.1h0M924.7 687.7h0M844.1 839.7h0M907.6 828.3h0M769.3 756.5h0M754.4 829.6h0M757.6 827.2h0M753.1 725.5h0M756.3 723.1h0M758.7 835.3h0M761.9 832.9h0M744.5 707.0h0M746.1 818.0h0M749.3 815.6h0M775.7 698.3h0M854.7 726.5h0M857.9 724.1h0M736.9 713.3h0M740.1 710.9h0M727.8 697.0h0M811.1 835.8h0M814.3 833.4h0M854.9 709.8h0M772.4 726.2h0M725.8 797.3h0M729.0 794.9h0M877.5 778.4h0M880.7 776.0h0M774.9 831.4h0M752.4 783.4h0M755.6 781.0h0M780.8 811.3h0M784.0 808.9h0M866.4 695.1h0M869.6 692.7h0M729.0 703.1h0M880.1 830.8h0M735.1 816.7h0M738.3 814.3h0M756.1 806.3h0M759.3 803.9h0M797.3 797.1h0M884.8 813.6h0M724.7 765.9h0M727.9 763.5h0M847.3 782.4h0M850.5 780.0h0M900.5 710.8h0M903.7 708.4h0M853.4 832.7h0M856.6 830.3h0M860.5 803.8h0M863.7 801.4h0M903.5 781.7h0M754.0 761.9h0M757.2 759.5h0M924.9 771.8h0M888.9 824.9h0M892.1 822.5h0M767.3 809.0h0M770.5 806.6h0M762.2 692.5h0M831.3 715.6h0M751.0 731.8h0M754.2 729.4h0M798.0 825.1h0M749.7 731.9h0M752.9 729.5h0M855.2 779.2h0M820.2 709.2h0M823.4 706.8h0M919.4 736.2h0M868.7 811.8h0M799.8 813.0h0M803.0 810.6h0M909.6 779.5h0M912.8 777.1h0M751.2 759.1h0M754.4 756.7h0M769.3 695.7h0M772.5 693.3h0M914.5 836.5h0M788.8 690.6h0M811.4 820.7h0M814.6 818.3h0M831.3 710.1h0M814.2 685.6h0M817.4 683.2h0M928.6 717.8h0M846.4 794.1h0M849.6 791.7h0M922.7 724.8h0M831.9 789.8h0M835.1 787.4h0M806.4 730.2h0M809.6 727.8h0M734.1 737.1h0M727.8 779.9h0M743.0 812.4h0M865.1 824.2h0M758.3 774.0h0M761.5 771.6h0M794.2 803.4h0M797.4 801.0h0M876.6 686.5h0M879.8 684.1h0M735.6 750.8h0M738.8 748.4h0M861.1 750.8h0M762.1 702.1h0M765.3 699.7h0M844.1 766.5h0M750.8 821.0h0M901.7 692.4h0M734.9 830.6h0M738.1 828.2h0M811.0 738.8h0M814.2 736.4h0M822.5 775.2h0M825.7 772.8h0M744.3 691.7h0M747.5 689.3h0M908.5 710.3h0M911.7 707.9h0M831.5 748.1h0M797.4 737.0h0M741.2 800.7h0M852.1 765.4h0M855.3 763.0h0M773.8 777.6h0M777.0 775.2h0M857.3 801.3h0M837.7 696.3h0M840.9 693.9h0M812.5 731.3h0M815.7 728.9h0M806.0 777.5h0M872.1 787.2h0M875.3 784.8h0M903.2 802.1h0M906.4 799.7h0M913.0 816.5h0M916.2 814.1h0M740.7 695.1h0M734.7 807.7h0M737.9 805.3h0M819.9 730.6h0M927.9 776.7h0M931.1 774.3h0M826.1 767.9h0M789.6 797.3h0M792.8 794.9h0M790.0 761.6h0M863.6 755.7h0M742.7 759.6h0M745.9 757.2h0M923.2 828.6h0M926.4 826.2h0M926.4 815.8h0M929.6 813.4h0M853.9 810.8h0M857.1 808.4h0M854.9 705.7h0M871.5 738.2h0M853.4 769.5h0M856.6 767.1h0M763.6 834.4h0M837.9 714.7h0M841.1 712.3h0M900.8 832.8h0M729.6 738.7h0M772.2 694.0h0M910.1 710.3h0M913.3 707.9h0M917.0 703.5h0M920.2 701.1h0M732.9 834.3h0M736.1 831.9h0M744.5 748.3h0M747.7 745.9h0M910.1 713.4h0M913.3 711.0h0M764.2 787.4h0M767.4 785.0h0M832.9 759.1h0M888.6 751.4h0M891.8 749.0h0M861.5 728.7h0M796.0 710.6h0M929.9 818.5h0M860.8 699.5h0M864.0 697.1h0M896.0 710.4h0M916.7 764.9h0M919.9 762.5h0M743.9 807.3h0M747.1 804.9h0M749.1 735.7h0M752.3 733.3h0M739.9 827.4h0M800.5 818.2h0M803.7 815.8h0M802.0 704.5h0M727.6 723.0h0M828.5 809.3h0M804.4 833.4h0M825.1 792.9h0M828.3 790.5h0M758.8 802.4h0M762.0 800.0h0M903.4 694.0h0M906.6 691.6h0M882.3 706.6h0M885.5 704.2h0M882.7 766.5h0M900.9 762.7h0M904.1 760.3h0M867.8 732.5h0M744.1 769.7h0M747.3 767.3h0M725.3 707.4h0M728.5 705.0h0M736.8 836.9h0M754.8 695.5h0M758.0 693.1h0M903.5 710.7h0M783.2 748.1h0M875.4 814.4h0M853.2 745.6h0M868.1 778.5h0M871.3 776.1h0M891.0 815.0h0M787.7 769.3h0M790.9 766.9h0M872.4 775.9h0M829.0 702.1h0M744.6 742.1h0M747.8 739.7h0M843.3 804.8h0M846.5 802.4h0M794.0 775.7h0M832.2 829.0h0M835.4 826.6h0M815.9 762.3h0M819.1 759.9h0M734.9 775.7h0M829.4 743.8h0M832.6 741.4h0M756.8 705.3h0M735.2 723.2h0M738.4 720.8h0M884.4 814.2h0M867.9 813.7h0M898.6 753.2h0M901.8 750.8h0M919.5 743.3h0M922.7 740.9h0M745.7 787.9h0M803.4 803.9h0M885.8 738.4h0M889.0 736.0h0M872.2 780.1h0M732.5 812.9h0M735.7 810.5h0M812.3 753.8h0M815.5 751.4h0M834.8 796.8h0M930.6 729.4h0M933.8 727.0h0M820.6 784.1h0M890.5 783.9h0M893.7 781.5h0M747.3 827.8h0M803.8 785.4h0M807.0 783.0h0M883.1 753.1h0M917.5 794.6h0M920.7 792.2h0M891.9 836.9h0M895.1 834.5h0M806.5 715.4h0M769.5 805.2h0M854.2 707.5h0M750.7 748.3h0M753.9 745.9h0M812.2 794.4h0M815.4 792.0h0M802.6 709.5h0M805.8 707.1h0M929.1 823.6h0M755.8 778.5h0M849.8 831.6h0M853.0 829.2h0M785.4 758.5h0M788.6 756.1h0M866.2 729.3h0M869.4 726.9h0M769.4 767.0h0M843.5 752.5h0M892.5 739.1h0M909.9 782.5h0M835.7 792.7h0M871.9 709.8h0M875.1 707.4h0M786.4 749.1h0M789.6 746.7h0M927.7 779.7h0M864.1 751.2h0M895.4 717.4h0M898.6 715.0h0M885.1 735.4h0M888.3 733.0h0M830.6 827.4h0M833.8 825.0h0M909.7 777.9h0M912.9 775.5h0M852.8 687.7h0M856.0 685.3h0M828.9 779.8h0M915.9 824.5h0M919.1 822.1h0M905.5 726.0h0M908.7 723.6h0M922.1 767.2h0M925.3 764.8h0M900.7 694.4h0M803.9 797.6h0M807.1 795.2h0M872.0 833.7h0M875.2 831.3h0M754.0 766.5h0M757.2 764.1h0M860.6 726.9h0M917.6 685.6h0M920.8 683.2h0M919.9 738.7h0M923.1 736.3h0M794.4 823.8h0M782.1 793.5h0M785.3 791.1h0M820.6 800.6h0M833.5 755.6h0M734.3 692.6h0M819.1 758.8h0M820.1 767.7h0M790.7 794.1h0M793.9 791.7h0M928.6 811.3h0M931.8 808.9h0M865.1 725.4h0M868.3 723.0h0M800.7 804.9h0M792.9 731.0h0M923.1 788.0h0M926.3 785.6h0M882.4 774.1h0M885.6 771.7h0M753.4 820.2h0M756.6 817.8h0M841.6 800.8h0M814.9 729.1h0M818.1 726.7h0M798.4 794.1h0M800.6 749.8h0M910.0 692.0h0M913.2 689.6h0M775.2 779.3h0" stroke="#ebe9f1" stroke-width="1.7" stroke-linecap="round" fill="none"/>
<g filter="url(#cellsoft)" fill="none" stroke-linecap="round">
<path d="M726.8 748.9l0.0 0.3M761.0 732.6l-0.7 2.0M823.7 761.8l-0.1 1.1M727.0 778.8l1.8 1.2M743.8 770.0l-2.6 4.4M930.6 797.8l-0.0 0.0" stroke="#46379c" stroke-width="5.2"/>
<path d="M726.7 804.7l1.4 1.0M781.6 839.9l1.2 0.4M760.6 802.8l-1.0 2.7M848.5 824.4l-0.2 0.2" stroke="#46379c" stroke-width="6.6"/>
<path d="M761.3 717.4l-4.3 2.6M887.6 698.0l-1.1 2.5M775.6 740.3l0.5 4.0M733.2 807.7l0.0 0.0M842.1 826.8l0.0 0.0" stroke="#46379c" stroke-width="8.2"/>
<path d="M767.5 748.2l-1.6 0.6M856.7 769.7l-2.7 1.4M789.9 822.7l0.0 0.0M844.4 804.9l0.0 0.0" stroke="#4f3fa2" stroke-width="5.2"/>
<path d="M765.6 699.2l0.6 2.7M786.7 765.7l0.0 0.0M786.6 802.2l-0.0 3.9M881.4 812.3l0.6 1.5" stroke="#4f3fa2" stroke-width="6.6"/>
<path d="M729.8 751.2l-0.0 0.0M902.1 753.0l-0.2 2.6M787.8 835.0l0.0 0.0" stroke="#4f3fa2" stroke-width="8.2"/>
<path d="M744.5 706.8l-3.6 0.2M844.8 715.7l3.9 3.2M841.0 715.7l-0.5 1.1M833.0 738.6l0.1 0.3M853.1 804.4l0.2 2.0" stroke="#5747a8" stroke-width="5.2"/>
<path d="M804.7 692.3l0.0 0.0M908.8 696.7l-2.9 2.0M839.4 745.4l0.3 0.3M776.6 789.1l0.0 0.0M818.1 762.7l-0.0 0.0M853.3 764.3l-1.2 0.3M896.7 812.1l-2.1 2.7M872.9 829.6l5.3 0.9" stroke="#5747a8" stroke-width="6.6"/>
<path d="M795.8 783.4l-4.0 1.3" stroke="#5747a8" stroke-width="8.2"/>
<path d="M746.8 712.1l-0.0 0.0M809.6 712.7l1.7 1.7M770.9 788.1l3.7 1.4M822.0 791.1l-1.3 0.9M756.1 814.6l0.0 0.0M793.1 803.6l3.8 0.0" stroke="#6152ae" stroke-width="5.2"/>
<path d="M834.2 685.0l-0.0 0.0" stroke="#6152ae" stroke-width="6.6"/>
<path d="M767.2 715.5l-4.8 1.7M879.9 701.8l1.5 1.5M825.0 833.4l-1.3 1.9" stroke="#6152ae" stroke-width="8.2"/>
<path d="M795.7 700.6l-0.1 1.9M876.2 721.0l-0.0 0.0M831.4 826.7l2.6 3.6" stroke="#6b5fb5" stroke-width="5.2"/>
</g></g>
<text transform="translate(495.00 670.04) rotate(-90)" font-size="28.4" fill="#231f20" stroke="#231f20" stroke-width="0.3">Migration</text>
<text transform="translate(495.00 830.90) rotate(-90)" font-size="28.2" fill="#231f20" stroke="#231f20" stroke-width="0.3">Invasion</text>
<text x="555.35" y="882.80" font-size="33.0" fill="#231f20" stroke="#231f20" stroke-width="0.3" text-anchor="start">Vector</text>
<text x="759.57" y="882.80" font-size="33.4" fill="#231f20" stroke="#231f20" stroke-width="0.3" text-anchor="start">sh-HM13</text>
<line x1="1019.60" y1="473.50" x2="1019.60" y2="664.90" stroke="#000" stroke-width="2.4" stroke-linecap="butt"/>
<line x1="1018.40" y1="663.70" x2="1410.00" y2="663.70" stroke="#000" stroke-width="2.4" stroke-linecap="butt"/>
<line x1="1011.70" y1="496.80" x2="1019.60" y2="496.80" stroke="#000" stroke-width="2.2" stroke-linecap="butt"/>
<text x="977.50" y="502.80" font-size="17.0" fill="#000" stroke="#000" stroke-width="0.3" text-anchor="start">250</text>
<line x1="1011.70" y1="546.10" x2="1019.60" y2="546.10" stroke="#000" stroke-width="2.2" stroke-linecap="butt"/>
<text x="977.50" y="552.10" font-size="17.0" fill="#000" stroke="#000" stroke-width="0.3" text-anchor="start">200</text>
<line x1="1011.70" y1="595.20" x2="1019.60" y2="595.20" stroke="#000" stroke-width="2.2" stroke-linecap="butt"/>
<text x="977.50" y="601.20" font-size="17.0" fill="#000" stroke="#000" stroke-width="0.3" text-anchor="start">150</text>
<line x1="1011.70" y1="644.30" x2="1019.60" y2="644.30" stroke="#000" stroke-width="2.2" stroke-linecap="butt"/>
<text x="977.50" y="650.30" font-size="17.0" fill="#000" stroke="#000" stroke-width="0.3" text-anchor="start">100</text>
<line x1="1126.10" y1="663.70" x2="1126.10" y2="670.90" stroke="#000" stroke-width="2.2" stroke-linecap="butt"/>
<text x="1099.08" y="689.40" font-size="16.9" fill="#000" stroke="#000" stroke-width="0.3" text-anchor="start">Vector</text>
<line x1="1303.90" y1="663.70" x2="1303.90" y2="670.90" stroke="#000" stroke-width="2.2" stroke-linecap="butt"/>
<text x="1267.04" y="689.40" font-size="16.9" fill="#000" stroke="#000" stroke-width="0.3" text-anchor="start">sh−HM13</text>
<text transform="translate(966.60 629.47) rotate(-90)" font-size="19.7" fill="#000" stroke="#000" stroke-width="0.3">No. of cells</text>
<line x1="1126.10" y1="482.00" x2="1126.10" y2="505.60" stroke="#000" stroke-width="2.0" stroke-linecap="butt"/>
<rect x="1054.80" y="505.60" width="142.70" height="50.60" fill="#74afc8" stroke="#000" stroke-width="2.2" />
<line x1="1054.80" y1="519.40" x2="1197.50" y2="519.40" stroke="#000" stroke-width="4.2" stroke-linecap="butt"/>
<line x1="1303.90" y1="624.40" x2="1303.90" y2="633.40" stroke="#000" stroke-width="2.0" stroke-linecap="butt"/>
<rect x="1232.50" y="633.40" width="142.40" height="20.70" fill="#c24e3b" stroke="#000" stroke-width="2.2" />
<line x1="1232.50" y1="644.30" x2="1374.90" y2="644.30" stroke="#000" stroke-width="4.2" stroke-linecap="butt"/>
<path d="M1126.1 482 L1303.9 482 L1303.9 486" stroke="#000" stroke-width="2.0" fill="none" />
<text x="1205.06" y="485.62" font-size="16.6" fill="#000" stroke="#000" stroke-width="0.3" text-anchor="start">***</text>
<line x1="1019.60" y1="707.50" x2="1019.60" y2="899.20" stroke="#000" stroke-width="2.4" stroke-linecap="butt"/>
<line x1="1018.40" y1="898.00" x2="1410.00" y2="898.00" stroke="#000" stroke-width="2.4" stroke-linecap="butt"/>
<line x1="1011.70" y1="707.90" x2="1019.60" y2="707.90" stroke="#000" stroke-width="2.2" stroke-linecap="butt"/>
<text x="977.50" y="713.90" font-size="17.0" fill="#000" stroke="#000" stroke-width="0.3" text-anchor="start">180</text>
<line x1="1011.70" y1="738.50" x2="1019.60" y2="738.50" stroke="#000" stroke-width="2.2" stroke-linecap="butt"/>
<text x="977.50" y="744.50" font-size="17.0" fill="#000" stroke="#000" stroke-width="0.3" text-anchor="start">160</text>
<line x1="1011.70" y1="769.30" x2="1019.60" y2="769.30" stroke="#000" stroke-width="2.2" stroke-linecap="butt"/>
<text x="977.50" y="775.30" font-size="17.0" fill="#000" stroke="#000" stroke-width="0.3" text-anchor="start">140</text>
<line x1="1011.70" y1="800.10" x2="1019.60" y2="800.10" stroke="#000" stroke-width="2.2" stroke-linecap="butt"/>
<text x="977.50" y="806.10" font-size="17.0" fill="#000" stroke="#000" stroke-width="0.3" text-anchor="start">120</text>
<line x1="1011.70" y1="830.90" x2="1019.60" y2="830.90" stroke="#000" stroke-width="2.2" stroke-linecap="butt"/>
<text x="977.50" y="836.90" font-size="17.0" fill="#000" stroke="#000" stroke-width="0.3" text-anchor="start">100</text>
<line x1="1011.70" y1="861.70" x2="1019.60" y2="861.70" stroke="#000" stroke-width="2.2" stroke-linecap="butt"/>
<text x="986.95" y="867.70" font-size="17.0" fill="#000" stroke="#000" stroke-width="0.3" text-anchor="start">80</text>
<line x1="1011.70" y1="892.60" x2="1019.60" y2="892.60" stroke="#000" stroke-width="2.2" stroke-linecap="butt"/>
<text x="986.95" y="898.60" font-size="17.0" fill="#000" stroke="#000" stroke-width="0.3" text-anchor="start">60</text>
<line x1="1126.10" y1="898.00" x2="1126.10" y2="905.20" stroke="#000" stroke-width="2.2" stroke-linecap="butt"/>
<text x="1099.08" y="923.70" font-size="16.9" fill="#000" stroke="#000" stroke-width="0.3" text-anchor="start">Vector</text>
<line x1="1303.90" y1="898.00" x2="1303.90" y2="905.20" stroke="#000" stroke-width="2.2" stroke-linecap="butt"/>
<text x="1267.04" y="923.70" font-size="16.9" fill="#000" stroke="#000" stroke-width="0.3" text-anchor="start">sh−HM13</text>
<text transform="translate(966.80 861.07) rotate(-90)" font-size="19.7" fill="#000" stroke="#000" stroke-width="0.3">No. of cells</text>
<line x1="1126.10" y1="721.40" x2="1126.10" y2="737.80" stroke="#000" stroke-width="2.0" stroke-linecap="butt"/>
<line x1="1126.10" y1="781.50" x2="1126.10" y2="784.30" stroke="#000" stroke-width="2.0" stroke-linecap="butt"/>
<rect x="1055.00" y="737.80" width="142.40" height="43.70" fill="#74afc8" stroke="#000" stroke-width="2.2" />
<line x1="1055.00" y1="766.00" x2="1197.40" y2="766.00" stroke="#000" stroke-width="4.2" stroke-linecap="butt"/>
<line x1="1303.90" y1="846.40" x2="1303.90" y2="858.70" stroke="#000" stroke-width="2.0" stroke-linecap="butt"/>
<line x1="1303.90" y1="885.00" x2="1303.90" y2="889.30" stroke="#000" stroke-width="2.0" stroke-linecap="butt"/>
<rect x="1232.40" y="858.70" width="143.10" height="26.30" fill="#c24e3b" stroke="#000" stroke-width="2.2" />
<line x1="1232.40" y1="877.10" x2="1375.50" y2="877.10" stroke="#000" stroke-width="4.2" stroke-linecap="butt"/>
<path d="M1126.1 721.4 L1304.5 721.4 L1304.5 725.8" stroke="#000" stroke-width="2.0" fill="none" />
<text x="1205.11" y="724.42" font-size="16.6" fill="#000" stroke="#000" stroke-width="0.3" text-anchor="start">***</text>
</svg>
</body></html>
